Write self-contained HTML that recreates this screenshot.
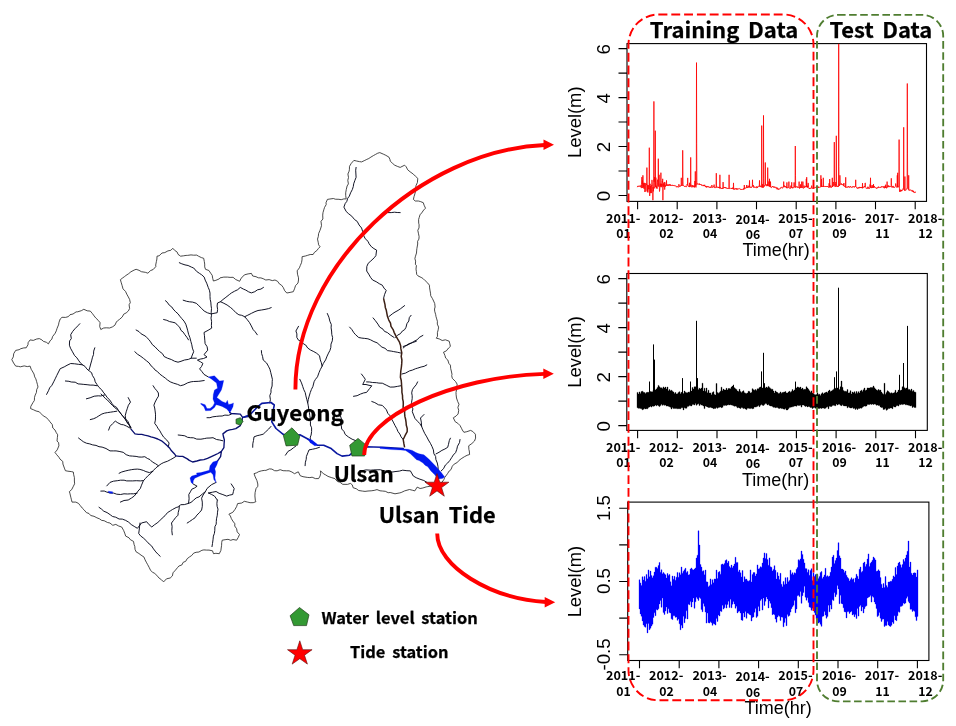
<!DOCTYPE html>
<html lang="en"><head><meta charset="utf-8"><title>Ulsan water level and tide stations: training and test data</title>
<style>
html,body{margin:0;padding:0;background:#fff;}
body{width:956px;height:726px;overflow:hidden;position:relative;}
svg{position:absolute;left:0;top:0;display:block;}
.b{font-family:"Liberation Sans","Noto Sans CJK KR",sans-serif;font-weight:700;fill:#000;}
.k{font-family:"Noto Sans CJK KR","Liberation Sans",sans-serif;font-weight:700;fill:#000;stroke:#000;stroke-width:0.25;}
.x{font-family:"Noto Sans CJK KR","Liberation Sans",sans-serif;font-weight:700;fill:#000;}
.a{font-family:"Liberation Sans",sans-serif;font-weight:400;fill:#000;}
.thin{fill:none;stroke:#1c1c1c;stroke-width:0.8;stroke-linejoin:round;stroke-linecap:round;}
.st{fill:none;stroke:#06081a;stroke-width:0.95;stroke-linejoin:round;stroke-linecap:round;}
.rv{fill:none;stroke:#0a1070;stroke-width:1.35;stroke-linejoin:round;stroke-linecap:round;}
.bl{fill:#0018f0;stroke:#0018f0;stroke-width:0.25;stroke-linejoin:round;}
.ax{fill:none;stroke:#000;stroke-width:1.1;}
.arrow{fill:none;stroke:#ff0000;stroke-width:3.9;}
</style></head><body>
<svg width="956" height="726" viewBox="0 0 956 726">
<rect width="956" height="726" fill="#fff"/>
<g id="map">
<path class="thin" d="M378.1,153.1 L379.8,152.6 L383.7,154.3 L385.8,155.3 L388.9,157.1 L389.9,159.3 L390.3,161.2 L392.6,163.4 L394.7,165.2 L397.7,166.5 L400.2,167.4 L404.6,165.2 L406.2,166.8 L407.7,169.8 L410.1,171.8 L413.3,174.1 L415.3,176.1 L417.8,178.4 L417.4,182.5 L416.0,185.6 L415.6,188.4 L415.6,190.9 L414.9,193.8 L414.0,196.7 L413.4,199.4 L415.2,201.0 L418.4,201.0 L420.3,201.5 L423.3,202.7 L424.1,205.2 L425.5,208.2 L423.7,210.0 L421.7,212.9 L420.0,214.8 L419.2,217.5 L418.6,219.5 L418.7,223.2 L419.1,224.8 L419.0,227.9 L417.8,230.3 L418.4,233.2 L419.1,236.6 L418.9,239.1 L417.6,241.3 L417.7,244.0 L416.9,248.5 L416.7,250.1 L416.5,253.0 L415.3,256.8 L414.9,258.7 L415.6,261.1 L415.4,264.3 L416.4,265.5 L416.0,269.1 L416.4,271.6 L416.7,274.4 L418.0,275.9 L421.9,277.8 L423.3,278.8 L425.2,280.7 L427.8,283.1 L429.4,285.2 L429.6,287.9 L430.1,290.9 L430.6,293.8 L430.7,295.7 L432.4,298.5 L433.6,301.0 L434.7,303.5 L435.1,307.0 L434.5,309.0 L434.7,311.2 L435.7,314.7 L436.0,316.6 L436.7,318.9 L437.4,321.3 L437.3,324.1 L438.6,327.1 L438.2,329.8 L437.4,332.7 L437.5,336.3 L436.3,338.2 L439.2,338.9 L442.2,340.5 L445.4,339.8 L449.2,341.2 L449.8,343.7 L450.4,346.4 L448.6,348.0 L446.3,350.9 L443.5,352.2 L444.9,355.4 L445.7,358.1 L447.8,360.0 L448.9,363.5 L450.4,365.1 L450.7,368.6 L451.3,371.0 L452.0,374.3 L451.7,375.7 L452.3,378.3 L455.6,381.6 L457.1,384.1 L457.0,386.9 L456.7,389.1 L456.0,392.4 L456.1,394.7 L456.5,398.0 L457.7,401.5 L459.0,404.3 L457.9,407.4 L458.7,410.3 L458.1,414.0 L456.0,416.1 L453.3,417.8 L455.2,421.7 L457.8,423.3 L460.0,425.5 L461.5,428.3 L462.3,430.0 L463.9,432.3 L466.8,431.7 L470.6,430.4 L472.8,431.5 L475.4,434.2 L475.6,438.1 L474.5,441.0 L471.9,443.5 L468.7,445.8 L468.9,449.6 L469.3,451.0 L469.6,454.5 L467.1,455.3 L464.6,456.6 L461.9,458.3 L459.1,460.3 L457.4,462.4 L454.2,464.1 L452.3,466.2 L451.0,469.6 L449.2,471.0 L447.5,473.7 L444.6,477.6 L443.9,479.6 L441.7,482.6 L439.6,483.7 L438.0,486.0 L434.8,486.8 L430.7,486.1 L427.8,486.6 L426.2,486.9 L422.8,488.0 L420.1,488.5 L417.2,487.1 L414.8,490.9 L412.7,490.3 L409.5,489.5 L404.6,490.9 L401.2,492.5 L399.8,492.9 L395.0,493.8 L390.2,492.5 L388.2,492.7 L385.3,491.3 L382.3,491.0 L380.0,490.8 L377.0,489.6 L374.2,490.4 L371.2,490.8 L368.0,491.0 L365.0,491.4 L362.6,491.1 L358.7,490.5 L356.4,488.8 L353.1,487.7 L352.3,484.9 L350.4,483.4 L347.5,484.4 L342.7,484.3 L339.9,482.2 L337.4,481.5 L334.9,478.6 L331.8,477.7 L328.0,476.4 L325.3,474.7 L323.6,473.9 L320.5,470.8 L320.7,473.3 L320.1,476.0 L318.6,478.6 L315.4,478.6 L312.1,477.2 L309.9,477.6 L307.3,477.4 L303.0,476.7 L300.2,475.7 L298.3,471.8 L294.5,473.7 L291.9,472.0 L289.1,470.8 L286.7,470.8 L283.1,470.7 L280.2,469.7 L277.1,470.8 L274.6,470.7 L271.9,469.1 L269.4,468.9 L265.9,470.4 L264.3,470.4 L261.7,470.8 L258.8,471.6 L256.6,472.8 L254.0,473.7 L255.2,476.9 L256.9,480.5 L257.8,484.0 L257.8,486.3 L256.0,488.6 L255.1,492.6 L254.9,495.9 L255.3,500.2 L255.9,501.7 L253.2,502.7 L250.1,502.7 L247.7,502.1 L244.3,501.3 L241.8,503.0 L237.6,503.6 L236.6,506.6 L235.0,509.4 L232.8,512.3 L228.9,514.2 L230.4,516.0 L231.4,518.7 L232.8,521.0 L234.9,523.8 L234.7,526.0 L236.6,528.7 L237.2,531.9 L239.5,534.5 L238.2,537.5 L236.6,540.2 L233.0,539.5 L230.8,540.3 L228.0,539.3 L225.1,539.7 L222.2,540.2 L221.7,542.6 L221.6,545.3 L221.2,548.0 L220.9,550.4 L219.3,553.7 L215.9,553.3 L213.5,553.7 L212.5,550.8 L209.0,550.1 L206.7,550.1 L203.9,549.9 L201.9,550.3 L198.9,552.0 L196.1,552.3 L193.7,553.1 L191.7,555.5 L189.4,557.0 L187.2,558.7 L185.7,561.3 L183.2,562.3 L181.8,565.0 L178.9,566.0 L177.7,567.4 L175.4,570.2 L173.0,572.8 L172.4,575.9 L170.2,578.0 L166.5,578.8 L163.6,581.9 L161.5,579.8 L159.1,578.1 L157.4,576.1 L154.6,573.2 L152.6,572.4 L150.5,570.2 L149.1,567.3 L147.7,564.7 L146.3,562.2 L145.1,559.9 L144.0,557.1 L141.0,555.1 L138.9,553.5 L136.1,551.8 L135.0,549.3 L134.8,546.5 L134.1,544.6 L133.5,541.4 L130.4,539.7 L129.0,537.8 L125.7,536.1 L124.7,533.1 L123.6,530.4 L121.7,527.0 L118.7,526.0 L115.8,524.4 L112.8,525.3 L109.9,523.0 L107.5,522.5 L104.1,520.7 L101.7,520.4 L99.6,518.9 L96.9,517.8 L94.0,516.3 L90.7,515.5 L89.0,513.5 L86.4,512.6 L84.0,509.8 L82.2,508.0 L80.2,505.5 L78.5,503.4 L75.8,502.1 L72.0,502.1 L71.3,499.2 L70.8,497.2 L70.0,493.8 L69.4,491.6 L71.7,489.6 L73.1,486.8 L74.6,483.8 L74.4,481.0 L74.4,477.6 L73.7,474.8 L73.3,472.0 L71.3,471.6 L67.9,471.2 L65.4,470.7 L64.4,468.1 L62.9,464.0 L62.8,461.5 L60.0,459.1 L58.9,457.2 L56.7,454.7 L55.0,452.4 L57.2,449.9 L58.9,445.8 L58.6,442.6 L57.0,441.1 L57.4,437.4 L57.7,434.8 L56.3,432.7 L55.0,430.0 L52.8,428.0 L52.3,424.6 L49.8,421.6 L48.4,419.6 L45.9,417.3 L43.3,415.9 L41.0,413.6 L39.3,411.8 L36.1,411.0 L33.3,409.7 L30.6,408.6 L30.8,406.4 L32.9,402.7 L34.4,400.4 L34.5,397.4 L35.2,395.1 L36.4,392.5 L36.7,389.6 L38.0,387.0 L37.4,384.4 L36.6,381.5 L35.8,378.8 L34.7,376.9 L34.0,374.0 L32.2,370.9 L31.2,369.3 L30.1,366.1 L27.3,366.6 L24.2,365.9 L20.4,366.8 L18.5,366.4 L15.7,366.1 L13.6,363.0 L11.8,359.6 L13.3,356.9 L13.7,353.7 L15.7,350.4 L19.1,349.7 L20.8,348.7 L23.8,347.9 L26.2,347.8 L28.0,344.7 L28.1,342.7 L30.1,339.9 L33.3,340.4 L36.7,339.0 L39.3,338.6 L41.9,339.9 L43.3,341.3 L46.4,342.3 L48.4,343.9 L50.1,340.8 L51.9,339.1 L52.5,336.7 L55.2,333.2 L56.3,330.8 L57.0,328.5 L58.5,324.9 L59.0,322.3 L60.2,319.0 L62.0,317.3 L65.6,317.4 L68.4,316.6 L70.0,314.7 L73.0,314.0 L76.1,311.9 L77.7,311.8 L81.3,310.7 L83.8,309.3 L87.2,310.8 L90.3,311.1 L92.5,313.7 L94.1,315.9 L95.7,317.9 L98.2,320.3 L100.1,322.7 L99.7,326.5 L100.8,329.5 L103.7,328.0 L106.3,327.8 L109.6,328.0 L112.6,326.8 L114.9,325.2 L116.4,322.0 L117.5,320.8 L119.5,319.4 L122.3,316.9 L123.7,314.2 L126.2,312.9 L128.4,310.9 L129.6,308.5 L129.1,304.7 L130.3,302.7 L129.6,299.4 L128.3,296.9 L126.8,294.2 L125.5,291.4 L123.0,288.9 L122.1,285.5 L121.1,282.2 L120.4,279.7 L122.3,278.2 L124.5,276.6 L125.9,275.5 L128.6,273.7 L130.9,271.8 L134.1,270.1 L136.1,269.3 L139.0,270.3 L141.4,271.7 L145.3,272.3 L147.9,273.2 L150.5,270.6 L153.2,269.5 L155.8,266.6 L155.7,265.0 L156.4,261.5 L156.9,259.0 L157.0,256.2 L159.1,255.8 L162.0,253.0 L164.8,252.6 L167.9,250.9 L170.8,250.3 L172.8,248.3 L174.6,250.3 L177.2,252.1 L178.0,254.3 L180.6,256.2 L183.6,255.8 L186.1,255.4 L187.4,255.4 L191.0,254.9 L193.7,255.2 L196.7,255.1 L198.5,256.2 L201.4,257.6 L203.7,258.3 L204.3,261.5 L204.7,264.1 L204.7,266.9 L205.5,269.3 L208.9,270.5 L210.7,273.2 L212.2,275.3 L212.7,278.3 L213.4,281.0 L215.9,280.3 L219.2,278.9 L220.0,277.9 L223.8,277.1 L227.5,277.1 L230.1,277.4 L233.1,277.3 L235.7,279.5 L239.6,281.3 L240.8,278.9 L242.6,276.5 L244.9,274.7 L248.1,273.9 L251.4,273.4 L252.7,276.0 L256.0,276.7 L258.3,277.8 L260.9,277.9 L263.2,278.7 L265.8,280.0 L269.1,279.6 L272.3,280.6 L275.0,280.0 L277.6,281.3 L279.4,283.9 L281.5,285.2 L283.2,287.4 L284.7,290.7 L286.8,293.0 L290.1,292.4 L293.3,291.7 L294.5,288.8 L295.5,285.7 L298.0,283.0 L298.5,280.0 L298.5,277.8 L297.5,274.2 L297.2,270.8 L299.4,267.8 L300.3,265.5 L301.5,262.7 L302.0,259.8 L302.1,256.7 L305.4,256.0 L307.7,255.3 L310.2,254.5 L313.1,254.5 L314.4,252.4 L316.8,250.6 L318.4,248.5 L320.1,246.8 L318.6,244.8 L318.3,242.7 L317.5,239.1 L318.3,236.5 L318.6,233.6 L320.0,230.3 L320.8,228.0 L321.5,225.6 L321.0,221.3 L322.9,219.0 L322.7,215.1 L323.0,212.6 L323.8,209.8 L324.5,207.5 L326.2,204.5 L326.0,202.7 L327.4,199.4 L329.9,199.0 L333.4,198.5 L335.3,199.2 L338.9,199.3 L341.2,199.7 L343.9,198.9 L346.2,198.9 L345.7,195.6 L345.7,192.8 L346.3,189.4 L347.1,186.0 L348.4,183.9 L347.8,180.3 L348.5,177.5 L347.9,174.0 L349.1,171.2 L349.4,169.7 L349.5,166.3 L351.3,163.3 L353.9,160.4 L356.5,161.0 L359.4,161.6 L361.6,161.9 L364.8,160.4 L366.8,159.4 L368.8,158.5 L370.9,157.1 L373.4,155.6 L375.2,154.6Z"/>
<path class="st" d="M356.1,167.4 L355.7,170.2 L355.9,174.0 L356.1,177.3 L354.9,180.4 L353.7,183.8 L353.3,186.5 L352.3,189.6 L350.6,192.8 L349.3,196.2 L347.7,198.3 L346.8,201.4 L345.2,203.5 L343.9,207.1 L346.2,211.5 L348.7,213.8 L351.8,216.2 L354.6,219.6 L357.2,221.4 L359.1,225.0 L361.6,228.0 L362.7,231.7 L363.8,235.8 L365.2,238.7 L368.1,241.4 L369.1,243.8 L371.5,246.8 L373.9,248.6 L376.6,250.1 L375.9,255.6 L374.3,257.7 L370.8,261.0 L368.2,263.3 L366.8,266.5 L366.7,271.0 L368.7,274.1 L370.5,277.3 L372.6,280.0 L376.2,281.7 L379.3,283.7 L382.3,285.2 L384.0,288.1 L386.2,290.4 L384.5,294.7 L383.6,298.3 M388.0,212.6 L391.2,212.6 L394.5,212.2 L397.2,212.5 L400.2,212.6 M404.6,305.6 L400.6,308.7 L398.1,310.4 L395.0,312.1 L392.8,313.5 L388.9,316.6 M411.1,315.3 L409.3,317.6 L408.8,321.0 L406.9,323.7 L406.0,327.3 L404.6,329.7 L402.3,331.1 L400.4,333.7 L397.5,335.2 L395.4,337.5 M422.9,335.4 L419.3,337.4 L417.3,339.7 L413.7,341.5 L411.3,343.1 L408.0,344.8 L405.4,346.1 L403.2,348.0 M373.1,317.9 L375.4,320.7 L377.9,324.1 L379.7,327.1 L383.0,329.2 L384.5,331.4 L387.3,332.5 L390.2,334.9 L394.1,337.5 M349.6,327.1 L351.8,329.5 L353.9,332.8 L355.7,334.8 L358.7,337.5 L361.8,338.1 L364.7,338.4 L367.9,338.8 L370.5,339.8 L373.9,341.6 L377.1,342.8 L379.9,345.3 L381.9,347.1 L385.0,348.3 L387.5,350.6 L391.2,351.1 L393.7,351.6 L397.7,352.3 L400.6,353.0 M327.3,313.5 L328.9,317.2 L329.9,321.3 L331.3,324.5 L331.1,327.9 L331.6,331.0 L331.8,334.6 L332.6,337.5 L332.3,340.8 L331.0,344.1 L330.8,347.6 L329.9,350.5 L328.5,353.1 L327.1,356.1 L325.6,359.9 L323.3,363.5 L322.1,366.2 M298.5,326.3 L295.9,331.0 L296.9,333.9 L296.8,337.4 L298.5,340.2 L301.2,341.4 L303.4,343.8 L305.7,345.0 L307.7,348.0 L310.5,350.0 L313.8,351.6 L316.7,353.3 L319.5,355.7 L320.3,359.9 L321.3,362.6 L322.1,366.2 L320.4,369.4 L319.1,372.4 L317.5,376.8 L315.5,379.3 L314.1,381.7 L312.9,386.5 L311.4,389.5 L310.3,392.4 L309.2,396.1 L308.3,399.4 L307.7,402.8 L308.3,405.8 L308.8,409.6 L309.3,412.2 L309.8,415.7 L310.3,418.5 L310.5,421.3 L310.4,425.0 L311.6,427.8 L311.6,431.6 L311.1,435.1 L310.3,437.1 L310.3,440.8 M299.8,379.3 L301.5,382.9 L302.7,386.4 L303.8,389.7 L305.2,392.5 L305.9,395.9 L306.9,399.8 L307.7,402.8 M261.4,350.6 L261.6,353.5 L262.6,356.6 L263.2,360.0 L266.6,363.0 L268.4,366.2 L269.9,369.2 L270.7,372.3 L271.6,376.0 L272.4,379.3 L272.2,381.7 L272.1,386.0 L271.0,389.4 L271.0,392.4 L269.8,395.7 L270.4,399.7 L269.7,402.8 M263.5,287.4 L260.9,289.1 L257.5,289.8 L254.8,291.7 L251.3,292.9 L248.6,291.8 L245.8,290.1 L243.4,289.1 L240.3,287.4 L237.7,289.7 L234.6,291.2 L231.5,292.9 L229.3,294.6 L225.9,297.3 L223.0,299.5 L220.5,301.7 L217.5,303.0 L217.1,306.0 L217.6,309.4 L217.2,312.7 L211.7,313.8 M220.5,301.7 L223.9,303.3 L227.1,305.0 L230.4,307.4 L232.8,309.4 L235.9,312.7 L238.9,314.8 L241.7,315.3 L244.7,316.7 L247.2,319.6 L249.5,322.6 L251.3,325.9 L253.2,329.7 L255.1,331.7 L257.3,334.8 M244.7,316.7 L247.8,315.2 L251.5,313.3 L255.0,311.6 L258.0,310.5 L261.4,310.0 L265.0,309.4 L268.6,308.6 L271.2,307.6 M361.4,374.0 L363.6,376.8 L365.3,379.3 L362.7,384.5 L366.0,384.5 L369.0,385.3 L371.8,385.8 L369.6,388.5 L366.6,392.4 L363.7,392.9 L360.4,394.1 L357.1,395.7 L353.5,396.3 M366.6,381.9 L369.6,382.0 L372.7,382.5 L376.6,382.7 L378.9,383.1 L382.3,383.2 L386.2,385.1 L390.2,387.1 L394.0,387.0 L397.3,386.4 L400.6,385.8 M371.8,401.5 L374.8,402.6 L378.5,404.8 L382.3,405.4 L384.7,407.9 L386.4,409.8 L387.8,413.3 L390.2,415.9 L391.5,418.9 L393.3,422.1 L395.0,425.5 L396.7,428.5 L398.0,431.6 L399.8,434.0 L401.1,436.9 L403.2,439.5 M340.4,415.9 L341.6,419.3 L340.8,421.7 L341.3,425.7 L341.7,429.0 L343.9,431.3 L345.2,434.4 L348.3,436.9 L352.1,439.2 L356.1,440.8 M271.0,426.4 L268.6,429.1 L265.4,432.1 L263.2,434.2 L259.8,435.1 L257.1,435.7 L254.0,436.9 L253.5,440.4 L252.8,443.8 L252.7,447.3 M295.9,446.0 L293.7,447.6 L290.8,449.9 L288.1,451.3 L285.4,455.2 M319.5,447.3 L315.8,448.5 L312.6,449.2 L309.0,449.9 L307.9,452.7 L306.4,456.5 L306.2,459.4 L305.4,462.2 L305.1,465.7 M426.8,364.9 L424.2,366.3 L421.1,367.0 L417.7,368.1 L415.6,368.7 L412.4,370.1 L409.5,370.9 L405.5,373.1 L401.9,374.0 M416.3,341.3 L412.5,342.6 L409.1,343.6 L406.4,345.3 L403.2,346.5 M417.6,381.9 L416.2,384.8 L414.2,387.1 L412.4,389.7 L411.7,392.9 L412.2,395.7 L412.2,398.6 L411.5,402.7 L411.1,405.4 L412.9,408.8 L412.3,411.7 L413.6,415.0 L415.0,418.5 L417.6,421.3 L419.8,423.6 L421.6,426.4 L423.0,429.8 L424.7,433.4 L426.8,436.9 L428.4,440.0 L430.4,443.3 L432.0,446.5 L433.4,449.9 L433.9,453.8 L435.6,456.4 L435.9,459.6 L437.3,463.0 L438.0,466.6 L438.2,470.2 L438.0,474.0 M424.0,414.5 L420.5,418.0 L421.3,422.1 L421.6,426.4 M450.4,438.2 L449.3,440.6 L448.5,444.3 L447.7,447.3 L444.9,449.0 L441.9,450.4 L439.0,452.3 L436.0,453.9 M460.0,439.5 L459.5,442.6 L457.5,446.2 L456.8,449.3 L455.6,452.6 L453.3,455.0 L451.6,457.7 L449.8,460.5 L447.7,463.0 L445.4,465.0 L443.5,468.7 L441.2,470.9 M360.0,470.5 L363.2,470.5 L366.1,469.9 L370.9,470.2 L373.5,469.9 L377.0,469.8 L380.3,469.7 L384.4,471.0 L388.0,471.2 L391.3,472.2 L395.0,471.6 L399.3,471.1 L402.7,470.2 L406.9,470.7 L410.4,470.9 L413.3,476.0 L416.2,477.7 L419.1,478.9 L423.8,480.5 L426.8,482.3 M79.8,323.7 L78.0,325.7 L74.9,328.8 L72.7,331.4 L70.7,334.7 L71.3,338.6 L69.6,340.9 L69.4,345.2 L70.5,348.2 L72.5,351.8 L74.6,355.6 L76.9,357.8 L78.4,360.1 L80.3,362.8 L82.5,364.8 L85.0,366.4 L86.8,368.9 L89.4,371.1 L91.6,372.7 L92.4,375.4 L94.5,378.8 L95.2,381.8 L96.9,384.4 L99.0,387.4 L101.7,389.8 L103.2,392.1 L105.3,394.6 L107.2,397.5 L109.9,400.1 L112.0,403.5 L113.8,405.8 L116.5,407.3 L118.4,410.3 L120.4,413.2 L123.3,416.7 L125.7,420.0 L127.6,423.2 L129.5,425.1 L130.9,427.5 M94.8,347.8 L93.7,351.1 L93.5,354.6 L92.5,357.2 L91.6,360.9 L90.7,364.0 L89.9,367.1 L89.0,370.0 M82.5,364.8 L78.3,364.3 L74.7,363.8 L70.7,363.5 L67.0,365.3 L64.2,366.9 L60.2,368.7 L58.5,372.0 L56.8,375.4 L55.2,378.8 L53.7,381.8 L51.9,385.3 L49.7,387.8 L48.5,390.7 L46.6,394.4 M96.9,385.7 L93.1,385.1 L90.2,385.1 L87.1,384.7 L83.8,384.4 L81.0,384.1 L78.1,383.9 L75.2,382.2 L71.3,382.0 L68.9,381.3 L65.4,381.0 M104.7,394.9 L100.8,396.0 L98.3,395.8 L94.2,396.2 L90.1,397.8 L86.4,398.8 M216.1,482.4 L211.5,484.7 L207.0,488.5 L205.5,491.5 L202.5,493.9 L199.0,496.9 L196.2,497.9 L193.6,500.2 L191.0,502.4 L188.5,503.4 L184.3,504.6 L180.6,504.7 L178.6,506.8 L176.2,507.5 L172.3,509.6 L170.3,510.9 L167.5,512.6 L165.0,515.7 L162.2,518.1 L159.7,520.8 L157.1,523.0 L154.3,524.9 L151.8,527.0 L149.1,524.7 L146.6,521.7 L141.4,523.0 L140.0,525.0 L137.4,528.3 L134.2,526.4 L131.2,524.5 L128.7,522.2 L125.7,520.4 L122.3,519.1 L119.1,519.0 L115.7,517.2 L112.6,516.5 L110.3,514.8 L107.1,512.6 L103.8,511.2 L101.6,509.2 L99.0,507.3 M140.0,523.0 L139.5,526.8 L139.2,530.1 L138.7,533.5 L140.6,535.9 L143.7,538.3 L146.8,541.3 L149.2,544.0 L151.5,545.8 L153.5,548.9 L155.8,551.9 L158.2,554.4 L160.2,556.3 M179.3,506.0 L179.1,509.1 L178.2,512.6 L178.0,515.2 L175.5,517.7 L173.4,520.5 L171.5,523.0 L172.1,526.5 L171.8,530.5 L172.3,534.8 M205.5,491.5 L203.1,495.0 L201.6,498.2 L202.3,502.1 L202.3,506.3 L201.6,510.0 L199.4,512.7 L196.9,515.1 L195.0,517.8 L192.6,519.4 L189.6,521.5 L187.2,523.0 M217.3,500.0 L216.9,503.5 L217.1,506.3 L218.0,509.2 L217.5,512.2 L217.3,515.2 L216.5,518.8 L216.3,521.4 L216.2,524.2 L214.9,526.7 L214.8,530.4 L214.4,533.4 L213.4,536.1 L213.0,539.8 L212.5,543.5 L212.0,546.6 M101.0,394.0 L103.0,395.9 L105.4,398.5 L107.4,400.0 L110.0,402.9 L112.3,405.3 L114.5,407.5 L117.6,409.7 L120.2,412.7 L122.2,415.4 L125.2,418.8 L126.7,421.6 L128.5,424.2 L130.5,427.1 M90.3,419.6 L93.7,418.7 L96.5,417.4 L98.8,415.9 L101.9,414.0 L104.7,413.1 L107.5,412.6 L110.3,412.2 L113.6,411.7 L116.8,411.2 M108.6,430.1 L110.0,426.4 L112.6,423.7 L115.3,421.1 L117.8,422.8 L121.2,424.5 L123.6,424.8 L126.5,426.1 L129.7,427.9 M175.9,456.4 L173.0,458.3 L170.4,459.7 L167.6,461.2 L163.8,462.5 L161.2,463.8 L158.5,465.8 L155.7,463.8 L152.4,462.0 L150.0,459.6 L147.3,458.4 L144.8,456.7 L141.8,457.1 L138.9,457.0 L136.1,456.4 L132.6,456.1 L129.7,455.9 L126.2,454.7 L123.2,452.3 L119.1,451.4 L116.1,450.9 L113.3,450.9 L110.0,450.9 L106.0,448.5 L102.1,447.1 L99.0,446.7 L96.0,445.4 L92.7,444.9 L89.8,443.9 L86.4,443.2 L83.3,441.7 L81.2,440.1 L78.5,438.0 M158.5,465.8 L155.9,467.9 L153.3,470.5 L150.9,473.3 L148.1,475.6 L145.4,478.5 L143.3,480.9 L141.5,485.2 L140.3,488.5 L138.0,491.1 L136.3,493.5 L134.2,496.1 L131.5,498.0 L128.2,500.0 L124.0,500.5 L120.4,502.1 M153.0,471.2 L149.4,472.6 L145.9,471.6 L143.3,470.4 L139.9,469.4 L137.3,469.1 L134.1,469.3 L131.3,469.7 L128.2,470.3 L125.2,471.0 L121.7,472.0 L119.1,473.3 M143.3,480.6 L140.3,480.9 L136.3,480.7 L132.7,480.9 L130.1,480.9 L126.7,480.9 L124.1,480.2 L120.6,480.2 L117.3,480.7 L113.4,481.2 L110.0,482.4 L106.8,485.9 M137.0,493.2 L133.6,493.8 L130.4,493.8 L127.7,494.0 L124.0,493.8 L120.6,494.5 L116.7,494.2 L113.7,493.1 L110.0,493.0 L106.8,492.1 L104.2,491.0 L100.8,491.1 M153.1,385.7 L154.8,388.4 L156.9,390.8 L158.4,393.0 L158.5,396.1 L156.8,398.8 L155.1,402.1 L153.9,405.2 L154.7,408.0 L155.1,410.9 L155.5,414.2 L155.5,416.9 L155.4,420.1 L154.7,423.3 L156.9,426.3 L157.8,428.1 L159.9,430.9 L161.5,433.9 L163.7,437.2 L166.8,440.1 L169.1,443.0 L168.3,446.8 M178.2,435.0 L181.1,435.3 L184.8,435.8 L187.5,437.3 L190.3,437.7 L193.5,437.8 L196.7,439.1 L200.9,439.2 L204.3,438.6 L206.8,438.1 L210.0,438.0 L213.0,437.7 L216.5,439.5 L219.7,440.0 L222.9,440.8 M207.0,417.7 L209.9,417.7 L212.8,416.8 L216.3,416.4 L219.1,416.1 L222.2,416.0 L224.9,415.1 L228.5,415.3 L231.2,414.2 M193.0,483.9 L197.1,486.2 L194.5,488.0 L191.8,489.2 L190.4,491.8 L188.8,494.5 L189.1,498.8 L188.5,503.4 M208.5,493.0 L212.5,492.2 L216.1,491.5 L219.1,493.3 L222.9,494.6 L226.7,496.1 L229.6,495.1 L232.7,494.5 L233.4,491.6 L234.2,488.5 L231.2,483.9 M208.5,493.0 L211.7,494.5 L214.5,496.1 L217.3,500.0 M128.2,397.6 L130.5,402.1 L128.4,405.2 L127.4,408.2 L126.2,411.8 L125.2,415.8 L125.7,418.9 L128.2,421.8 L129.4,425.2 L131.2,429.4 M179.3,262.7 L181.8,263.8 L185.0,264.9 L188.1,265.5 L191.4,267.1 L193.7,268.0 L196.5,271.3 L199.5,273.4 L201.7,274.8 L204.2,277.1 L205.2,280.1 L206.7,283.2 L208.3,287.6 L209.4,290.2 L210.0,293.1 L210.0,296.5 L210.2,299.4 L210.8,302.1 L211.1,305.9 L211.5,308.5 L211.2,312.3 L211.5,315.2 L211.0,318.1 L211.6,321.6 L211.4,325.3 L211.7,328.1 L208.1,330.3 L204.0,332.5 L204.4,335.3 L204.8,340.2 L205.1,343.6 L207.1,346.7 L207.7,350.2 L204.0,354.6 L207.0,357.0 L203.5,358.5 L200.2,359.1 L197.4,360.1 L200.5,361.8 L202.9,363.4 L201.6,366.4 L199.6,368.9 L202.0,371.7 L204.0,374.4 L208.2,376.9 M183.2,300.2 L186.6,301.3 L189.4,301.8 L192.6,302.1 L196.3,303.3 L198.8,305.7 L201.6,308.4 L204.2,311.1 L207.5,312.8 L210.7,313.8 M165.4,300.7 L167.1,302.1 L169.3,305.2 L171.8,307.0 L173.1,309.0 L175.7,311.8 L178.0,313.8 L179.8,316.2 L181.8,318.6 L184.0,321.1 L185.8,324.2 L187.0,328.0 L187.6,330.2 L188.6,334.3 L189.8,337.3 L190.9,341.6 L191.8,344.8 L192.4,348.1 L193.7,351.7 L192.3,355.0 L191.1,358.2 M163.6,319.5 L166.8,320.3 L169.6,321.6 L172.1,322.1 L175.4,322.9 L177.4,325.2 L179.6,327.1 L181.0,330.4 L183.2,332.1 L184.6,334.3 L186.9,337.3 L188.5,339.9 M136.1,330.0 L139.0,331.6 L141.1,333.8 L145.0,335.9 L146.6,337.3 L149.0,339.7 L150.5,341.8 L152.5,344.8 L155.0,346.8 L157.1,349.1 L159.6,351.5 L162.5,353.7 L164.1,356.5 L167.5,358.2 L171.3,359.5 L174.5,361.2 L178.0,362.2 L181.0,361.3 L184.5,360.0 L188.4,359.4 L191.1,358.2 L196.3,358.2 M134.8,351.7 L137.5,354.2 L140.9,356.4 L143.5,358.4 L146.6,360.9 L149.2,363.0 L151.1,365.9 L153.5,367.9 L154.9,369.9 L157.6,371.7 L159.7,374.0 L162.4,376.0 L165.3,378.1 L167.4,379.9 L170.2,381.8 L173.4,383.1 L177.4,384.3 L180.6,385.7 L183.9,384.8 L187.7,382.8 L191.1,381.8 L193.5,381.5 L198.8,381.3 L201.0,381.0 L204.2,380.5"/>
<path d="M383.6,298.3 L384.2,301.3 L385.0,304.6 L385.3,307.4 L386.3,310.3 L386.9,313.6 L387.5,316.6 L388.8,320.1 L390.5,323.2 L391.0,326.4 L393.3,329.9 L394.1,332.3 L395.6,335.4 L397.4,338.7 L399.5,342.2 L400.6,345.4 L400.9,348.9 L401.8,352.9 L401.2,356.3 L401.9,360.0 L401.7,363.9 L401.4,367.0 L400.8,371.0 L400.6,374.0 L400.4,377.2 L401.2,380.3 L401.5,383.4 L401.6,385.7 L401.9,389.1 L401.9,392.4 L402.5,395.3 L402.6,398.9 L403.2,401.4 L403.3,404.1 L403.1,407.4 L404.7,410.3 L404.6,413.3 L404.9,416.4 L405.6,419.2 L406.1,422.7 L406.3,425.3 L407.2,428.4 L407.2,431.6 L405.0,435.7 L403.2,439.5 L403.9,443.7 L404.6,447.3" fill="none" stroke="#3b1f14" stroke-width="1.5" stroke-linejoin="round"/>
<path class="rv" d="M131.2,429.4 L135.0,433.9 L138.3,434.4 L141.8,434.4 L144.6,435.2 L148.0,435.8 L151.0,436.9 L153.9,437.7 L157.7,439.0 L161.5,440.8 L164.5,443.2 L167.3,445.7 L169.8,448.3 L171.5,450.8 L174.3,453.7 L175.9,455.9 L179.4,456.3 L182.7,456.4 L187.3,458.9 L189.3,460.4 L192.6,462.0 L196.9,461.0 L200.2,460.0 L203.9,459.7 L207.5,458.4 L210.8,456.8 L214.5,455.2 L218.0,453.5 L221.4,451.4 L223.9,447.6 L224.1,443.8 L224.4,440.0 L223.5,436.8 L222.9,433.9 L226.7,430.9 L229.7,429.8 L232.6,429.4 L235.8,428.6 L240.3,425.6 L241.8,421.5 L242.6,417.3 M229.7,412.4 L231.2,413.5 L240.3,414.2 L242.6,417.3 L250.0,416.3 M221.4,451.4 L220.6,456.7 L217.6,460.8"/>
<path class="rv" style="stroke:#0a18a0;stroke-width:1.6" d="M243.6,417.2 L250.0,414.7 L256.7,407.6 L261.8,403.4 L271.0,402.5 L274.3,405.0 L272.6,413.4 L271.8,421.8 L276.0,428.5 L283.2,434.3 L292.0,437.0 L299.9,434.8 L306.9,438.5 L317.0,445.2 L323.7,445.2 L331.2,448.6 L337.1,453.6 L342.1,456.1 L349.6,455.2 L358.0,448.0 L365.3,446.8 L382.3,447.3 L403.2,448.6"/>
<path class="bl" d="M208.2,376.9 L214.4,375.8 L219.6,381.0 L223.7,380.5 L222.5,386.0 L221.4,390.0 L219.1,393.8 L216.8,397.5 L222.1,401.4 L225.9,402.9 L227.4,400.3 L228.5,404.4 L231.2,403.9 L233.5,402.9 L233.0,406.7 L230.9,410.9 L229.7,412.4 L226.7,408.9 L222.1,406.4 L218.3,405.2 L216.1,404.8 L214.5,407.4 L210.8,410.5 L205.5,410.8 L203.9,406.7 L200.6,404.1 L200.9,403.3 L205.2,404.7 L207.0,408.5 L210.0,408.5 L213.0,405.9 L214.5,402.9 L213.0,399.1 L213.3,394.5 L214.5,390.0 L217.5,388.2 L216.5,383.1 L211.3,378.9Z"/>
<path class="bl" d="M217.6,460.5 L213.0,462.0 L210.0,465.8 L209.2,470.3 L200.9,472.6 L196.4,473.0 L197.1,474.5 L191.8,476.1 L190.0,477.9 L191.1,482.4 L193.0,483.9 L193.3,480.7 L194.8,478.2 L200.9,475.6 L207.0,473.4 L210.8,472.2 L213.0,474.8 L213.8,479.4 L216.1,482.8 L215.0,477.9 L215.6,471.8 L214.8,468.8 L216.8,465.0 L218.0,461.5Z"/>
<path class="bl" d="M380.0,447.0 L391.6,448.0 L404.6,448.9 L408.0,449.3 L412.4,450.4 L416.0,452.6 L419.1,453.8 L423.9,454.8 L428.8,459.1 L435.5,465.9 L441.3,472.6 L444.7,476.9 L442.3,478.6 L438.0,479.0 L434.5,474.5 L430.7,470.7 L427.8,466.8 L425.0,465.2 L423.0,463.0 L419.1,460.6 L416.5,459.8 L414.8,458.1 L410.4,453.8 L405.6,450.6 L400.8,450.0 L391.6,449.6 L380.0,448.6Z"/>
<path class="bl" d="M308.0,438.6 L312.0,440.0 L317.5,444.6 L315.0,446.0 L310.0,442.5Z"/>
<path class="bl" d="M108.0,491.2 L112.6,491.8 L112.6,493.6 L109.0,493.0Z"/>
</g>
<g id="markers" stroke="#1f3d1a" stroke-width="0.7" stroke-linejoin="round">
<path d="M240.4,417.7 L243.1,421.3 L240.5,425.1 L236.1,423.7 L236.0,419.2Z" fill="#339933"/>
<path d="M291.9,427.8 L299.8,436.0 L297.6,445.2 L286.1,445.9 L283.3,435.3Z" fill="#339933"/>
<path d="M358.0,438.4 L366.3,445.2 L364.6,456.0 L351.9,456.0 L349.7,445.3Z" fill="#339933"/>
<path d="M299.5,607.5 L309.0,614.8 L306.5,625.6 L293.7,625.6 L290.1,615.7Z" fill="#339933"/>
</g>
<g id="stars" stroke="#5a0c0c" stroke-width="0.6" stroke-linejoin="round">
<path d="M437.0,473.6 L439.8,482.2 L448.9,482.2 L441.6,487.6 L444.3,496.2 L437.0,490.9 L429.7,496.2 L432.4,487.6 L425.1,482.2 L434.2,482.2Z" fill="#ff0000"/>
<path d="M299.8,640.8 L302.7,649.7 L312.1,649.7 L304.5,655.2 L307.4,664.1 L299.8,658.7 L292.2,664.1 L295.1,655.2 L287.5,649.7 L296.9,649.7Z" fill="#ff0000"/>
</g>
<g id="arrows">
<path class="arrow" d="M295.4,389.4 C295.4,265.6 421.4,150.6 544.7,145.0"/>
<path d="M554.0,144.8 L543.5,139.5 L543.5,150.1Z" fill="#ff0000"/>
<path class="arrow" d="M364.2,455.0 C364.2,418.1 451.1,376.6 544.5,373.9"/>
<path d="M553.8,373.8 L543.3,368.5 L543.3,379.1Z" fill="#ff0000"/>
<path class="arrow" d="M437.2,533.5 C437.2,566.1 490.2,598.7 545.9,602.0"/>
<path d="M555.2,602.3 L544.7,597.0 L544.7,607.6Z" fill="#ff0000"/>
</g>
<g id="labels">
<text class="k" x="246.4" y="420.6" font-size="21.3" textLength="97.4" lengthAdjust="spacingAndGlyphs">Guyeong</text>
<text class="k" x="333.7" y="482.0" font-size="21.3" textLength="60.1" lengthAdjust="spacingAndGlyphs">Ulsan</text>
<text class="k" x="378.7" y="522.8" font-size="21.3" textLength="117" lengthAdjust="spacingAndGlyphs" word-spacing="4">Ulsan Tide</text>
<text class="k" x="321.4" y="623.6" font-size="16.2" textLength="156.5" lengthAdjust="spacingAndGlyphs" word-spacing="3">Water level station</text>
<text class="k" x="350.0" y="658.4" font-size="16.2" textLength="98.6" lengthAdjust="spacingAndGlyphs" word-spacing="3">Tide station</text>
</g>
<g id="chart1">
<rect class="ax" x="627.0" y="43.6" width="299.5" height="157.8"/>
<path class="ax" d="M637.6,201.4v7.8M677.2,201.4v7.8M716.9,201.4v7.8M756.5,201.4v7.8M796.2,201.4v7.8M835.9,201.4v7.8M875.5,201.4v7.8M915.2,201.4v7.8M627.0,48.6h-8.5M627.0,73.1h-8.5M627.0,97.6h-8.5M627.0,122.0h-8.5M627.0,146.5h-8.5M627.0,171.0h-8.5M627.0,195.5h-8.5"/>
<text class="a" font-size="18.7" text-anchor="middle" transform="translate(609.9,49.2) rotate(-90)">6</text>
<text class="a" font-size="18.7" text-anchor="middle" transform="translate(609.9,98.2) rotate(-90)">4</text>
<text class="a" font-size="18.7" text-anchor="middle" transform="translate(609.9,147.1) rotate(-90)">2</text>
<text class="a" font-size="18.7" text-anchor="middle" transform="translate(609.9,196.1) rotate(-90)">0</text>
<text class="a" font-size="18.4" text-anchor="middle" transform="translate(581.4,122.2) rotate(-90)">Level(m)</text>
<text class="a" font-size="18" x="742.4" y="255.8">Time(hr)</text>
<text class="x" font-size="12.3" textLength="34.4" lengthAdjust="spacingAndGlyphs" text-anchor="middle" x="623.2" y="223.2">2011-</text>
<text class="x" font-size="12.3" text-anchor="middle" x="623.6" y="238.3">01</text>
<text class="x" font-size="12.3" textLength="34.4" lengthAdjust="spacingAndGlyphs" text-anchor="middle" x="666.2" y="223.2">2012-</text>
<text class="x" font-size="12.3" text-anchor="middle" x="666.6" y="238.3">02</text>
<text class="x" font-size="12.3" textLength="34.4" lengthAdjust="spacingAndGlyphs" text-anchor="middle" x="709.6" y="223.2">2013-</text>
<text class="x" font-size="12.3" text-anchor="middle" x="710.0" y="238.3">04</text>
<text class="x" font-size="12.3" textLength="34.4" lengthAdjust="spacingAndGlyphs" text-anchor="middle" x="752.6" y="224.4">2014-</text>
<text class="x" font-size="12.3" text-anchor="middle" x="753.0" y="239.0">06</text>
<text class="x" font-size="12.3" textLength="34.4" lengthAdjust="spacingAndGlyphs" text-anchor="middle" x="795.5" y="223.2">2015-</text>
<text class="x" font-size="12.3" text-anchor="middle" x="795.9" y="238.3">07</text>
<text class="x" font-size="12.3" textLength="34.4" lengthAdjust="spacingAndGlyphs" text-anchor="middle" x="839.1" y="223.2">2016-</text>
<text class="x" font-size="12.3" text-anchor="middle" x="839.5" y="238.3">09</text>
<text class="x" font-size="12.3" textLength="34.4" lengthAdjust="spacingAndGlyphs" text-anchor="middle" x="882" y="223.2">2017-</text>
<text class="x" font-size="12.3" text-anchor="middle" x="882.4" y="238.3">11</text>
<text class="x" font-size="12.3" textLength="34.4" lengthAdjust="spacingAndGlyphs" text-anchor="middle" x="925.2" y="223.2">2018-</text>
<text class="x" font-size="12.3" text-anchor="middle" x="925.6" y="238.3">12</text>
<path d="M637.3,187.2 L637.5,186.6 L637.7,186.9 L637.9,185.9 L638.1,186.6 L638.3,186.4 L638.5,186.5 L638.7,186.4 L638.9,185.9 L639.1,186.1 L639.3,185.7 L639.5,185.9 L639.7,186.5 L639.9,186.0 L640.1,186.3 L640.3,186.5 L640.5,186.9 L640.7,186.6 L640.9,185.8 L641.1,184.8 L641.3,188.1 L641.5,184.7 L641.7,183.0 L641.9,177.1 L642.1,184.2 L642.3,180.3 L642.5,180.7 L642.7,188.0 L642.9,175.3 L643.1,180.8 L643.3,187.5 L643.5,186.4 L643.7,183.1 L643.9,187.8 L644.1,188.9 L644.3,182.8 L644.5,183.2 L644.7,183.6 L644.9,192.0 L645.1,183.0 L645.3,183.5 L645.5,184.3 L645.7,186.9 L645.9,191.5 L646.1,190.4 L646.3,184.0 L646.5,183.7 L646.7,184.9 L646.9,167.6 L647.1,184.0 L647.3,187.9 L647.5,191.7 L647.7,184.9 L647.9,192.5 L648.1,190.1 L648.3,186.8 L648.5,185.3 L648.7,189.2 L648.9,188.3 L649.1,189.0 L649.3,147.7 L649.5,179.1 L649.7,195.9 L649.9,188.2 L650.1,183.8 L650.3,187.0 L650.5,186.7 L650.7,193.1 L650.9,186.1 L651.1,188.5 L651.3,193.1 L651.5,185.4 L651.7,186.2 L651.9,179.9 L652.1,180.6 L652.3,184.0 L652.5,186.2 L652.7,189.3 L652.9,200.2 L653.1,186.9 L653.3,191.4 L653.5,187.9 L653.7,178.7 L653.9,101.4 L654.1,181.7 L654.3,178.9 L654.5,177.2 L654.7,188.4 L654.9,186.9 L655.1,186.5 L655.3,130.7 L655.5,178.3 L655.7,187.0 L655.9,177.6 L656.1,186.6 L656.3,186.5 L656.5,188.2 L656.7,185.8 L656.9,186.4 L657.1,188.7 L657.3,182.4 L657.5,179.7 L657.7,180.2 L657.9,186.1 L658.1,185.7 L658.3,158.7 L658.5,175.7 L658.7,185.7 L658.9,186.8 L659.1,174.8 L659.3,186.1 L659.5,191.5 L659.7,190.3 L659.9,188.3 L660.1,186.9 L660.3,183.7 L660.5,186.7 L660.7,184.9 L660.9,172.7 L661.1,185.3 L661.3,183.8 L661.5,185.8 L661.7,187.2 L661.9,183.9 L662.1,186.4 L662.3,181.0 L662.5,182.4 L662.7,178.8 L662.9,200.2 L663.1,186.8 L663.3,186.4 L663.5,183.4 L663.7,186.8 L663.9,183.6 L664.1,182.1 L664.3,182.1 L664.5,183.6 L664.7,189.6 L664.9,182.4 L665.1,185.1 L665.3,186.2 L665.5,186.7 L665.7,185.2 L665.9,185.9 L666.1,185.6 L666.3,185.2 L666.5,180.4 L666.7,185.2 L666.9,185.8 L667.1,184.2 L667.3,185.6 L667.5,185.4 L667.7,185.5 L667.9,185.3 L668.1,185.9 L668.3,185.1 L668.5,185.3 L668.7,184.5 L668.9,185.6 L669.1,185.2 L669.3,184.2 L669.5,185.1 L669.7,185.2 L669.9,185.0 L670.1,185.6 L670.3,184.7 L670.5,184.4 L670.7,185.5 L670.9,185.1 L671.1,185.7 L671.3,185.2 L671.5,185.0 L671.7,185.2 L671.9,185.6 L672.1,185.3 L672.3,184.9 L672.5,185.3 L672.7,185.2 L672.9,185.2 L673.1,186.0 L673.3,185.4 L673.5,185.0 L673.7,185.4 L673.9,185.7 L674.1,185.7 L674.3,185.5 L674.5,185.7 L674.7,186.1 L674.9,185.6 L675.1,185.6 L675.3,186.0 L675.5,185.8 L675.7,186.3 L675.9,186.5 L676.1,186.5 L676.3,186.4 L676.5,187.2 L676.7,187.0 L676.9,186.5 L677.1,187.1 L677.3,186.7 L677.5,186.4 L677.7,186.8 L677.9,186.9 L678.1,186.7 L678.3,187.4 L678.5,187.0 L678.7,186.5 L678.9,184.2 L679.1,186.4 L679.3,186.5 L679.5,186.7 L679.7,186.0 L679.9,186.1 L680.1,185.6 L680.3,186.0 L680.5,186.4 L680.7,185.9 L680.9,185.8 L681.1,186.0 L681.3,177.8 L681.5,185.5 L681.7,185.4 L681.9,185.9 L682.1,185.0 L682.3,185.6 L682.5,185.4 L682.7,150.3 L682.9,176.2 L683.1,185.2 L683.3,185.7 L683.5,185.3 L683.7,185.8 L683.9,186.1 L684.1,186.2 L684.3,186.2 L684.5,186.9 L684.7,186.6 L684.9,186.3 L685.1,186.2 L685.3,185.9 L685.5,186.5 L685.7,186.7 L685.9,186.3 L686.1,186.4 L686.3,187.1 L686.5,186.6 L686.7,186.4 L686.9,185.9 L687.1,184.2 L687.3,185.1 L687.5,184.7 L687.7,177.9 L687.9,185.8 L688.1,185.6 L688.3,185.7 L688.5,186.3 L688.7,186.3 L688.9,187.0 L689.1,186.5 L689.3,186.9 L689.5,182.8 L689.7,187.1 L689.9,186.6 L690.1,186.7 L690.3,186.9 L690.5,186.7 L690.7,157.4 L690.9,186.1 L691.1,184.8 L691.3,186.6 L691.5,186.4 L691.7,186.8 L691.9,187.4 L692.1,186.7 L692.3,187.0 L692.5,185.2 L692.7,186.7 L692.9,186.6 L693.1,186.6 L693.3,186.5 L693.5,186.5 L693.7,186.9 L693.9,185.3 L694.1,187.3 L694.3,186.2 L694.5,186.7 L694.7,187.4 L694.9,181.0 L695.1,186.4 L695.3,171.4 L695.5,186.8 L695.7,187.0 L695.9,187.1 L696.1,187.4 L696.3,186.7 L696.5,62.6 L696.7,143.4 L696.9,184.7 L697.1,183.8 L697.3,183.5 L697.5,183.6 L697.7,183.7 L697.9,183.9 L698.1,183.9 L698.3,184.4 L698.5,184.0 L698.7,184.1 L698.9,184.0 L699.1,184.2 L699.3,183.5 L699.5,184.8 L699.7,184.2 L699.9,184.1 L700.1,184.5 L700.3,184.8 L700.5,184.3 L700.7,184.6 L700.9,184.2 L701.1,184.9 L701.3,184.8 L701.5,184.7 L701.7,185.6 L701.9,185.2 L702.1,185.1 L702.3,184.9 L702.5,185.2 L702.7,185.4 L702.9,185.0 L703.1,186.1 L703.3,185.9 L703.5,185.9 L703.7,184.9 L703.9,185.7 L704.1,185.7 L704.3,185.1 L704.5,185.7 L704.7,184.8 L704.9,186.1 L705.1,186.1 L705.3,186.6 L705.5,185.9 L705.7,187.1 L705.9,186.8 L706.1,186.9 L706.3,186.1 L706.5,186.2 L706.7,187.5 L706.9,186.7 L707.1,186.6 L707.3,186.5 L707.5,186.2 L707.7,187.0 L707.9,187.1 L708.1,186.5 L708.3,186.3 L708.5,187.1 L708.7,187.2 L708.9,187.2 L709.1,187.3 L709.3,186.8 L709.5,187.5 L709.7,187.2 L709.9,187.2 L710.1,187.5 L710.3,187.1 L710.5,187.6 L710.7,186.7 L710.9,186.7 L711.1,187.3 L711.3,187.6 L711.5,186.9 L711.7,186.4 L711.9,185.0 L712.1,187.3 L712.3,187.3 L712.5,187.2 L712.7,187.6 L712.9,187.1 L713.1,186.8 L713.3,187.0 L713.5,186.6 L713.7,187.1 L713.9,186.8 L714.1,184.6 L714.3,187.6 L714.5,187.2 L714.7,187.7 L714.9,187.9 L715.1,187.8 L715.3,187.9 L715.5,187.3 L715.7,186.9 L715.9,187.2 L716.1,186.9 L716.3,173.2 L716.5,187.6 L716.7,187.4 L716.9,187.1 L717.1,186.7 L717.3,186.8 L717.5,187.0 L717.7,187.2 L717.9,187.7 L718.1,187.0 L718.3,187.7 L718.5,186.9 L718.7,187.2 L718.9,187.9 L719.1,187.3 L719.3,187.2 L719.5,188.4 L719.7,187.9 L719.9,174.8 L720.1,188.0 L720.3,187.3 L720.5,188.2 L720.7,188.6 L720.9,188.4 L721.1,188.8 L721.3,188.2 L721.5,188.0 L721.7,188.6 L721.9,188.4 L722.1,188.0 L722.3,188.9 L722.5,188.5 L722.7,187.9 L722.9,188.3 L723.1,182.1 L723.3,188.4 L723.5,188.3 L723.7,187.6 L723.9,187.6 L724.1,187.7 L724.3,187.5 L724.5,187.3 L724.7,188.0 L724.9,187.0 L725.1,187.6 L725.3,187.6 L725.5,187.5 L725.7,188.0 L725.9,187.5 L726.1,188.4 L726.3,188.1 L726.5,188.1 L726.7,187.9 L726.9,187.8 L727.1,188.5 L727.3,188.1 L727.5,188.6 L727.7,188.9 L727.9,188.7 L728.1,188.9 L728.3,188.4 L728.5,188.5 L728.7,188.9 L728.9,188.7 L729.1,174.8 L729.3,188.5 L729.5,188.7 L729.7,188.3 L729.9,188.4 L730.1,188.6 L730.3,188.4 L730.5,188.2 L730.7,188.1 L730.9,188.2 L731.1,188.0 L731.3,188.6 L731.5,188.0 L731.7,188.6 L731.9,188.2 L732.1,188.4 L732.3,189.0 L732.5,188.1 L732.7,187.6 L732.9,188.3 L733.1,188.4 L733.3,189.3 L733.5,182.9 L733.7,189.2 L733.9,188.7 L734.1,189.6 L734.3,189.5 L734.5,189.5 L734.7,188.6 L734.9,188.8 L735.1,189.0 L735.3,188.9 L735.5,189.0 L735.7,188.7 L735.9,188.1 L736.1,189.4 L736.3,188.9 L736.5,188.8 L736.7,188.4 L736.9,189.6 L737.1,189.1 L737.3,189.3 L737.5,189.2 L737.7,188.5 L737.9,189.3 L738.1,189.2 L738.3,189.2 L738.5,189.0 L738.7,188.7 L738.9,189.0 L739.1,188.8 L739.3,188.8 L739.5,188.8 L739.7,188.8 L739.9,188.5 L740.1,188.7 L740.3,189.2 L740.5,189.5 L740.7,189.6 L740.9,189.3 L741.1,190.0 L741.3,189.7 L741.5,189.3 L741.7,189.2 L741.9,189.6 L742.1,189.3 L742.3,189.1 L742.5,189.3 L742.7,189.3 L742.9,189.5 L743.1,188.9 L743.3,189.5 L743.5,188.6 L743.7,189.1 L743.9,188.7 L744.1,189.3 L744.3,185.0 L744.5,188.5 L744.7,188.8 L744.9,188.9 L745.1,187.8 L745.3,188.1 L745.5,187.8 L745.7,188.2 L745.9,188.1 L746.1,187.9 L746.3,187.6 L746.5,187.7 L746.7,185.0 L746.9,187.9 L747.1,187.9 L747.3,187.0 L747.5,187.5 L747.7,187.4 L747.9,187.6 L748.1,185.7 L748.3,187.1 L748.5,186.9 L748.7,187.5 L748.9,187.3 L749.1,185.9 L749.3,187.3 L749.5,180.4 L749.7,186.7 L749.9,187.4 L750.1,187.3 L750.3,186.8 L750.5,187.3 L750.7,187.7 L750.9,187.2 L751.1,187.3 L751.3,187.6 L751.5,187.8 L751.7,187.1 L751.9,186.4 L752.1,186.7 L752.3,186.5 L752.5,179.8 L752.7,186.3 L752.9,186.3 L753.1,186.3 L753.3,185.1 L753.5,187.0 L753.7,187.5 L753.9,187.7 L754.1,186.7 L754.3,187.0 L754.5,187.0 L754.7,186.8 L754.9,187.7 L755.1,187.4 L755.3,187.1 L755.5,187.2 L755.7,187.4 L755.9,187.5 L756.1,188.0 L756.3,188.1 L756.5,187.5 L756.7,186.4 L756.9,187.2 L757.1,187.4 L757.3,187.0 L757.5,187.9 L757.7,187.1 L757.9,186.5 L758.1,186.6 L758.3,186.8 L758.5,186.3 L758.7,186.2 L758.9,185.9 L759.1,186.2 L759.3,186.3 L759.5,180.4 L759.7,186.7 L759.9,186.4 L760.1,186.6 L760.3,185.7 L760.5,186.0 L760.7,186.6 L760.9,186.1 L761.1,187.0 L761.3,187.4 L761.5,187.1 L761.7,125.6 L761.9,181.9 L762.1,185.8 L762.3,187.5 L762.5,187.4 L762.7,184.2 L762.9,187.2 L763.1,187.7 L763.3,187.9 L763.5,115.4 L763.7,178.4 L763.9,187.0 L764.1,186.5 L764.3,186.2 L764.5,186.0 L764.7,185.2 L764.9,185.9 L765.1,185.5 L765.3,162.5 L765.5,184.2 L765.7,185.0 L765.9,184.5 L766.1,184.3 L766.3,185.4 L766.5,185.4 L766.7,185.1 L766.9,186.2 L767.1,185.6 L767.3,184.0 L767.5,185.7 L767.7,167.6 L767.9,179.8 L768.1,185.7 L768.3,185.6 L768.5,185.8 L768.7,186.2 L768.9,181.5 L769.1,186.1 L769.3,186.3 L769.5,178.8 L769.7,186.5 L769.9,186.4 L770.1,186.0 L770.3,187.0 L770.5,181.6 L770.7,186.9 L770.9,187.5 L771.1,187.7 L771.3,187.7 L771.5,187.1 L771.7,187.4 L771.9,187.0 L772.1,186.6 L772.3,186.2 L772.5,186.8 L772.7,186.1 L772.9,186.7 L773.1,186.8 L773.3,186.8 L773.5,186.7 L773.7,186.8 L773.9,187.6 L774.1,186.6 L774.3,187.3 L774.5,187.4 L774.7,187.2 L774.9,186.8 L775.1,187.5 L775.3,187.7 L775.5,187.2 L775.7,187.1 L775.9,187.3 L776.1,187.2 L776.3,188.3 L776.5,187.8 L776.7,188.2 L776.9,187.8 L777.1,189.3 L777.3,188.4 L777.5,187.8 L777.7,188.7 L777.9,188.8 L778.1,189.5 L778.3,188.6 L778.5,189.1 L778.7,189.5 L778.9,189.8 L779.1,189.3 L779.3,189.0 L779.5,188.9 L779.7,188.5 L779.9,188.6 L780.1,188.7 L780.3,188.2 L780.5,188.4 L780.7,187.6 L780.9,188.2 L781.1,188.0 L781.3,187.5 L781.5,187.3 L781.7,186.9 L781.9,187.4 L782.1,187.6 L782.3,187.7 L782.5,188.3 L782.7,187.8 L782.9,187.5 L783.1,186.8 L783.3,187.2 L783.5,186.9 L783.7,181.6 L783.9,186.8 L784.1,186.8 L784.3,185.5 L784.5,186.5 L784.7,186.1 L784.9,186.8 L785.1,187.3 L785.3,186.3 L785.5,186.5 L785.7,186.1 L785.9,186.4 L786.1,187.0 L786.3,187.7 L786.5,187.3 L786.7,188.2 L786.9,182.4 L787.1,188.0 L787.3,188.2 L787.5,188.0 L787.7,187.4 L787.9,187.5 L788.1,187.4 L788.3,187.5 L788.5,187.7 L788.7,186.9 L788.9,181.6 L789.1,187.9 L789.3,187.9 L789.5,188.0 L789.7,188.4 L789.9,187.8 L790.1,187.9 L790.3,188.0 L790.5,188.4 L790.7,187.3 L790.9,185.6 L791.1,187.9 L791.3,187.9 L791.5,187.6 L791.7,182.3 L791.9,187.6 L792.1,187.4 L792.3,187.7 L792.5,187.2 L792.7,188.3 L792.9,188.2 L793.1,187.7 L793.3,187.7 L793.5,187.6 L793.7,187.4 L793.9,187.7 L794.1,182.4 L794.3,187.2 L794.5,186.8 L794.7,186.9 L794.9,186.7 L795.1,187.2 L795.3,146.0 L795.5,175.8 L795.7,187.6 L795.9,186.9 L796.1,186.8 L796.3,186.6 L796.5,187.1 L796.7,186.9 L796.9,187.1 L797.1,186.5 L797.3,187.0 L797.5,187.5 L797.7,187.0 L797.9,187.2 L798.1,187.3 L798.3,187.8 L798.5,187.6 L798.7,187.6 L798.9,187.6 L799.1,181.6 L799.3,187.9 L799.5,188.5 L799.7,187.4 L799.9,188.1 L800.1,187.6 L800.3,187.6 L800.5,184.4 L800.7,187.6 L800.9,187.1 L801.1,187.9 L801.3,186.8 L801.5,187.4 L801.7,181.6 L801.9,187.1 L802.1,187.5 L802.3,187.6 L802.5,187.5 L802.7,187.8 L802.9,181.6 L803.1,187.4 L803.3,188.4 L803.5,188.4 L803.7,188.2 L803.9,188.0 L804.1,185.6 L804.3,187.6 L804.5,187.2 L804.7,187.1 L804.9,187.5 L805.1,186.6 L805.3,186.6 L805.5,186.1 L805.7,186.8 L805.9,187.0 L806.1,186.4 L806.3,178.9 L806.5,186.7 L806.7,177.2 L806.9,187.0 L807.1,186.9 L807.3,187.7 L807.5,185.8 L807.7,187.2 L807.9,186.8 L808.1,182.9 L808.3,183.3 L808.5,187.6 L808.7,188.2 L808.9,188.4 L809.1,187.9 L809.3,188.0 L809.5,188.6 L809.7,189.0 L809.9,188.1 L810.1,188.7 L810.3,188.2 L810.5,188.3 L810.7,188.3 L810.9,187.8 L811.1,187.5 L811.3,187.3 L811.5,187.5 L811.7,185.6 L811.9,188.6 L812.1,188.3 L812.3,188.2 L812.5,187.8 L812.7,188.3 L812.9,188.5 L813.1,188.0 L813.3,188.0 L813.5,188.6 L813.7,188.1 L813.9,187.7 L814.1,188.2 L814.3,188.0 L814.5,188.2 L814.7,187.9 L814.9,187.6 L815.1,187.7 L815.3,187.5 L815.5,187.0 L815.7,187.1 L815.9,187.6 L816.1,187.3 L816.3,187.4 L816.5,186.6 L816.7,186.7 L816.9,186.7 L817.1,186.6 L817.3,186.7 L817.5,187.1 L817.7,187.9 L817.9,187.5 L818.1,187.2 L818.3,187.9 L818.5,186.7 L818.7,187.4 L818.9,187.4 L819.1,187.1 L819.3,187.5 L819.5,187.3 L819.7,187.1 L819.9,186.9 L820.1,186.8 L820.3,187.2 L820.5,187.1 L820.7,187.1 L820.9,175.3 L821.1,185.3 L821.3,186.6 L821.5,179.1 L821.7,186.8 L821.9,185.8 L822.1,187.0 L822.3,186.6 L822.5,186.5 L822.7,186.5 L822.9,186.6 L823.1,186.2 L823.3,177.8 L823.5,186.8 L823.7,186.2 L823.9,186.8 L824.1,186.4 L824.3,186.2 L824.5,186.1 L824.7,186.5 L824.9,186.9 L825.1,186.6 L825.3,186.4 L825.5,186.5 L825.7,187.0 L825.9,186.5 L826.1,186.5 L826.3,186.9 L826.5,186.6 L826.7,186.5 L826.9,186.2 L827.1,186.9 L827.3,186.2 L827.5,186.6 L827.7,186.4 L827.9,186.2 L828.1,186.5 L828.3,187.1 L828.5,187.5 L828.7,187.0 L828.9,186.8 L829.1,183.3 L829.3,187.3 L829.5,185.9 L829.7,179.1 L829.9,184.1 L830.1,187.7 L830.3,187.3 L830.5,186.9 L830.7,185.5 L830.9,186.0 L831.1,186.9 L831.3,187.0 L831.5,187.5 L831.7,186.8 L831.9,186.9 L832.1,186.5 L832.3,177.8 L832.5,187.0 L832.7,186.0 L832.9,186.3 L833.1,184.1 L833.3,182.0 L833.5,183.6 L833.7,186.0 L833.9,185.5 L834.1,184.9 L834.3,142.1 L834.5,185.3 L834.7,186.3 L834.9,186.5 L835.1,186.4 L835.3,187.0 L835.5,184.3 L835.7,185.0 L835.9,182.0 L836.1,186.3 L836.3,135.8 L836.5,177.0 L836.7,186.5 L836.9,186.3 L837.1,185.8 L837.3,186.6 L837.5,186.1 L837.7,186.5 L837.9,186.9 L838.1,186.3 L838.3,186.9 L838.5,186.2 L838.7,43.9 L838.9,166.6 L839.1,185.6 L839.3,184.4 L839.5,185.8 L839.7,185.2 L839.9,175.3 L840.1,180.9 L840.3,184.2 L840.5,184.6 L840.7,184.4 L840.9,184.3 L841.1,184.2 L841.3,183.4 L841.5,184.7 L841.7,184.3 L841.9,184.1 L842.1,184.3 L842.3,184.9 L842.5,184.7 L842.7,184.8 L842.9,185.2 L843.1,184.2 L843.3,184.5 L843.5,185.2 L843.7,186.0 L843.9,183.0 L844.1,186.2 L844.3,186.5 L844.5,186.8 L844.7,186.5 L844.9,186.9 L845.1,186.5 L845.3,187.1 L845.5,187.4 L845.7,177.3 L845.9,187.3 L846.1,187.1 L846.3,187.6 L846.5,187.4 L846.7,187.5 L846.9,187.2 L847.1,186.6 L847.3,186.8 L847.5,187.4 L847.7,187.6 L847.9,187.3 L848.1,186.8 L848.3,186.4 L848.5,187.1 L848.7,186.5 L848.9,187.0 L849.1,187.2 L849.3,186.9 L849.5,187.5 L849.7,187.3 L849.9,186.7 L850.1,187.1 L850.3,186.8 L850.5,186.1 L850.7,186.7 L850.9,186.7 L851.1,187.2 L851.3,187.6 L851.5,186.9 L851.7,187.1 L851.9,187.3 L852.1,187.2 L852.3,187.1 L852.5,186.7 L852.7,186.5 L852.9,187.4 L853.1,186.7 L853.3,186.6 L853.5,186.0 L853.7,186.3 L853.9,186.5 L854.1,186.8 L854.3,186.7 L854.5,187.4 L854.7,186.7 L854.9,186.8 L855.1,186.7 L855.3,187.0 L855.5,186.8 L855.7,179.8 L855.9,186.8 L856.1,187.0 L856.3,187.1 L856.5,187.1 L856.7,187.8 L856.9,188.2 L857.1,187.7 L857.3,187.9 L857.5,188.2 L857.7,188.7 L857.9,188.2 L858.1,187.5 L858.3,188.3 L858.5,187.9 L858.7,187.4 L858.9,187.8 L859.1,187.5 L859.3,188.2 L859.5,187.5 L859.7,186.9 L859.9,187.3 L860.1,187.0 L860.3,188.0 L860.5,187.2 L860.7,187.0 L860.9,187.7 L861.1,187.6 L861.3,187.6 L861.5,187.0 L861.7,187.9 L861.9,188.0 L862.1,187.3 L862.3,188.2 L862.5,183.1 L862.7,188.2 L862.9,187.5 L863.1,187.4 L863.3,187.6 L863.5,187.8 L863.7,187.3 L863.9,187.2 L864.1,186.7 L864.3,186.0 L864.5,187.2 L864.7,186.9 L864.9,187.0 L865.1,183.0 L865.3,182.9 L865.5,186.9 L865.7,187.3 L865.9,187.3 L866.1,187.8 L866.3,188.6 L866.5,188.4 L866.7,188.6 L866.9,188.7 L867.1,188.2 L867.3,188.4 L867.5,187.8 L867.7,188.4 L867.9,186.7 L868.1,187.8 L868.3,187.4 L868.5,188.4 L868.7,187.9 L868.9,188.3 L869.1,188.0 L869.3,187.8 L869.5,188.6 L869.7,188.4 L869.9,187.8 L870.1,184.4 L870.3,187.3 L870.5,177.8 L870.7,187.7 L870.9,187.2 L871.1,187.3 L871.3,187.4 L871.5,188.1 L871.7,188.0 L871.9,185.3 L872.1,187.6 L872.3,187.0 L872.5,187.5 L872.7,187.3 L872.9,185.2 L873.1,187.9 L873.3,187.3 L873.5,184.1 L873.7,187.6 L873.9,187.1 L874.1,187.2 L874.3,186.1 L874.5,187.3 L874.7,187.2 L874.9,187.2 L875.1,187.4 L875.3,187.8 L875.5,187.5 L875.7,187.7 L875.9,187.5 L876.1,187.8 L876.3,188.5 L876.5,188.5 L876.7,187.9 L876.9,188.3 L877.1,188.3 L877.3,187.7 L877.5,188.1 L877.7,187.7 L877.9,187.2 L878.1,186.9 L878.3,187.6 L878.5,186.7 L878.7,187.4 L878.9,187.7 L879.1,187.7 L879.3,187.1 L879.5,187.2 L879.7,187.4 L879.9,187.5 L880.1,187.2 L880.3,187.4 L880.5,188.0 L880.7,187.7 L880.9,187.2 L881.1,186.6 L881.3,186.7 L881.5,186.9 L881.7,187.2 L881.9,186.3 L882.1,186.9 L882.3,187.1 L882.5,186.7 L882.7,186.9 L882.9,186.8 L883.1,186.8 L883.3,187.1 L883.5,186.8 L883.7,187.5 L883.9,186.3 L884.1,188.0 L884.3,188.3 L884.5,187.1 L884.7,186.9 L884.9,187.4 L885.1,185.8 L885.3,188.0 L885.5,187.4 L885.7,184.7 L885.9,187.5 L886.1,187.1 L886.3,186.9 L886.5,188.3 L886.7,187.7 L886.9,187.8 L887.1,181.6 L887.3,187.3 L887.5,186.8 L887.7,186.8 L887.9,186.2 L888.1,185.3 L888.3,187.1 L888.5,186.9 L888.7,187.0 L888.9,185.7 L889.1,186.5 L889.3,186.3 L889.5,187.1 L889.7,186.6 L889.9,186.8 L890.1,186.6 L890.3,186.6 L890.5,186.5 L890.7,186.8 L890.9,186.0 L891.1,185.7 L891.3,178.3 L891.5,186.9 L891.7,186.8 L891.9,187.4 L892.1,187.3 L892.3,187.1 L892.5,186.5 L892.7,187.3 L892.9,187.0 L893.1,185.9 L893.3,187.2 L893.5,186.8 L893.7,187.2 L893.9,187.9 L894.1,187.5 L894.3,187.4 L894.5,187.1 L894.7,187.4 L894.9,187.1 L895.1,186.9 L895.3,186.4 L895.5,186.1 L895.7,183.5 L895.9,184.9 L896.1,186.3 L896.3,186.4 L896.5,187.3 L896.7,187.3 L896.9,187.5 L897.1,187.3 L897.3,175.3 L897.5,187.1 L897.7,172.8 L897.9,184.6 L898.1,187.4 L898.3,186.5 L898.5,186.3 L898.7,186.5 L898.9,186.5 L899.1,139.6 L899.3,178.0 L899.5,191.3 L899.7,191.4 L899.9,192.0 L900.1,189.5 L900.3,191.5 L900.5,191.2 L900.7,190.4 L900.9,190.5 L901.1,190.1 L901.3,191.2 L901.5,190.4 L901.7,191.1 L901.9,189.8 L902.1,190.5 L902.3,190.3 L902.5,190.1 L902.7,190.0 L902.9,189.3 L903.1,188.5 L903.3,189.3 L903.5,188.7 L903.7,127.3 L903.9,181.2 L904.1,189.9 L904.3,189.6 L904.5,190.6 L904.7,190.4 L904.9,176.5 L905.1,190.5 L905.3,190.2 L905.5,190.2 L905.7,190.4 L905.9,189.7 L906.1,189.3 L906.3,189.2 L906.5,189.4 L906.7,188.5 L906.9,188.3 L907.1,188.5 L907.3,83.5 L907.5,153.9 L907.7,188.3 L907.9,188.4 L908.1,189.3 L908.3,189.4 L908.5,189.6 L908.7,175.3 L908.9,190.2 L909.1,190.1 L909.3,190.6 L909.5,190.2 L909.7,189.7 L909.9,190.0 L910.1,190.0 L910.3,190.3 L910.5,190.1 L910.7,189.7 L910.9,190.0 L911.1,190.6 L911.3,190.6 L911.5,190.6 L911.7,191.2 L911.9,190.7 L912.1,190.5 L912.3,191.0 L912.5,191.5 L912.7,190.4 L912.9,191.1 L913.1,191.4 L913.3,192.0 L913.5,190.9 L913.7,192.4 L913.9,191.7 L914.1,191.9 L914.3,192.2 L914.5,192.7 L914.7,192.6 L914.9,192.3 L915.1,192.9 L915.3,192.2 L915.5,191.6" fill="none" stroke="#ff0000" stroke-width="0.8" stroke-linejoin="miter" stroke-miterlimit="2"/>
</g>
<g id="chart2">
<rect class="ax" x="626.8" y="273.5" width="300.5" height="156.9"/>
<path class="ax" d="M637.6,430.4v7.8M677.3,430.4v7.8M717.0,430.4v7.8M756.7,430.4v7.8M796.4,430.4v7.8M836.1,430.4v7.8M875.8,430.4v7.8M915.5,430.4v7.8M626.8,278.6h-8.5M626.8,303.1h-8.5M626.8,327.6h-8.5M626.8,352.1h-8.5M626.8,376.6h-8.5M626.8,401.1h-8.5M626.8,425.6h-8.5"/>
<text class="a" font-size="18.7" text-anchor="middle" transform="translate(609.9,279.2) rotate(-90)">6</text>
<text class="a" font-size="18.7" text-anchor="middle" transform="translate(609.9,328.2) rotate(-90)">4</text>
<text class="a" font-size="18.7" text-anchor="middle" transform="translate(609.9,377.2) rotate(-90)">2</text>
<text class="a" font-size="18.7" text-anchor="middle" transform="translate(609.9,426.2) rotate(-90)">0</text>
<text class="a" font-size="18.4" text-anchor="middle" transform="translate(581.4,352.0) rotate(-90)">Level(m)</text>
<text class="a" font-size="18" x="742.0" y="486.1">Time(hr)</text>
<text class="x" font-size="12.3" textLength="34.4" lengthAdjust="spacingAndGlyphs" text-anchor="middle" x="623.2" y="451.8">2011-</text>
<text class="x" font-size="12.3" text-anchor="middle" x="623.6" y="466.9">01</text>
<text class="x" font-size="12.3" textLength="34.4" lengthAdjust="spacingAndGlyphs" text-anchor="middle" x="666.2" y="451.8">2012-</text>
<text class="x" font-size="12.3" text-anchor="middle" x="666.6" y="466.9">02</text>
<text class="x" font-size="12.3" textLength="34.4" lengthAdjust="spacingAndGlyphs" text-anchor="middle" x="709.6" y="451.8">2013-</text>
<text class="x" font-size="12.3" text-anchor="middle" x="710.0" y="466.9">04</text>
<text class="x" font-size="12.3" textLength="34.4" lengthAdjust="spacingAndGlyphs" text-anchor="middle" x="752.6" y="453.0">2014-</text>
<text class="x" font-size="12.3" text-anchor="middle" x="753.0" y="467.6">06</text>
<text class="x" font-size="12.3" textLength="34.4" lengthAdjust="spacingAndGlyphs" text-anchor="middle" x="795.5" y="451.8">2015-</text>
<text class="x" font-size="12.3" text-anchor="middle" x="795.9" y="466.9">07</text>
<text class="x" font-size="12.3" textLength="34.4" lengthAdjust="spacingAndGlyphs" text-anchor="middle" x="839.1" y="451.8">2016-</text>
<text class="x" font-size="12.3" text-anchor="middle" x="839.5" y="466.9">09</text>
<text class="x" font-size="12.3" textLength="34.4" lengthAdjust="spacingAndGlyphs" text-anchor="middle" x="882" y="451.8">2017-</text>
<text class="x" font-size="12.3" text-anchor="middle" x="882.4" y="466.9">11</text>
<text class="x" font-size="12.3" textLength="34.4" lengthAdjust="spacingAndGlyphs" text-anchor="middle" x="925.2" y="451.8">2018-</text>
<text class="x" font-size="12.3" text-anchor="middle" x="925.6" y="466.9">12</text>
<path d="M637.0,392.4H638.0V393.9H639.0V391.9H640.0V393.4H641.0V391.6H642.0V391.2H643.0V392.2H644.0V392.5H645.0V393.4H646.0V392.6H647.0V392.3H648.0V392.3H649.0V392.8H650.0V391.5H651.0V391.7H652.0V391.7H653.0V390.0H654.0V388.8H655.0V390.1H656.0V388.9H657.0V387.5H658.0V385.4H659.0V386.8H660.0V387.8H661.0V387.8H662.0V388.4H663.0V386.9H664.0V388.1H665.0V387.1H666.0V388.9H667.0V387.0H668.0V390.8H669.0V389.6H670.0V390.8H671.0V390.2H672.0V391.2H673.0V392.0H674.0V393.6H675.0V392.5H676.0V393.9H677.0V393.7H678.0V392.4H679.0V391.7H680.0V393.7H681.0V392.3H682.0V393.0H683.0V393.6H684.0V391.0H685.0V392.2H686.0V392.7H687.0V392.8H688.0V392.1H689.0V392.2H690.0V391.3H691.0V391.1H692.0V387.5H693.0V389.1H694.0V386.8H695.0V386.8H696.0V389.3H697.0V387.2H698.0V389.4H699.0V388.3H700.0V389.0H701.0V388.0H702.0V383.2H703.0V391.1H704.0V388.2H705.0V391.2H706.0V388.0H707.0V392.8H708.0V390.2H709.0V393.1H710.0V392.9H711.0V394.7H712.0V392.5H713.0V391.7H714.0V394.5H715.0V395.1H716.0V383.5H717.0V392.6H718.0V393.2H719.0V392.5H720.0V391.2H721.0V387.2H722.0V390.7H723.0V389.1H724.0V389.9H725.0V390.1H726.0V388.3H727.0V390.0H728.0V388.5H729.0V388.6H730.0V388.8H731.0V387.1H732.0V386.1H733.0V388.5H734.0V387.8H735.0V388.8H736.0V389.4H737.0V390.9H738.0V391.6H739.0V389.3H740.0V391.4H741.0V392.5H742.0V391.5H743.0V390.8H744.0V392.7H745.0V393.3H746.0V393.4H747.0V393.0H748.0V391.3H749.0V391.4H750.0V393.0H751.0V392.5H752.0V388.7H753.0V389.7H754.0V390.3H755.0V389.5H756.0V390.5H757.0V388.8H758.0V388.8H759.0V387.6H760.0V386.9H761.0V387.9H762.0V388.0H763.0V387.4H764.0V386.7H765.0V388.0H766.0V387.1H767.0V387.7H768.0V386.4H769.0V387.4H770.0V388.4H771.0V389.2H772.0V389.2H773.0V391.0H774.0V393.0H775.0V390.9H776.0V392.0H777.0V392.5H778.0V393.5H779.0V393.3H780.0V391.9H781.0V393.2H782.0V392.5H783.0V392.2H784.0V392.0H785.0V391.6H786.0V392.9H787.0V393.1H788.0V391.9H789.0V391.3H790.0V392.2H791.0V391.4H792.0V389.6H793.0V391.0H794.0V390.0H795.0V388.4H796.0V388.1H797.0V386.9H798.0V387.3H799.0V387.7H800.0V387.1H801.0V389.1H802.0V388.1H803.0V389.4H804.0V389.3H805.0V389.3H806.0V386.8H807.0V388.1H808.0V389.3H809.0V390.7H810.0V392.2H811.0V390.9H812.0V393.1H813.0V393.5H814.0V394.5H815.0V394.8H816.0V394.5H817.0V392.8H818.0V394.6H819.0V394.2H820.0V395.6H821.0V393.8H822.0V392.7H823.0V393.9H824.0V392.9H825.0V392.5H826.0V392.0H827.0V392.7H828.0V391.1H829.0V390.1H830.0V391.4H831.0V391.0H832.0V390.2H833.0V389.6H834.0V388.2H835.0V388.3H836.0V388.6H837.0V387.9H838.0V390.3H839.0V389.4H840.0V386.7H841.0V381.1H842.0V387.3H843.0V390.4H844.0V391.3H845.0V391.2H846.0V391.5H847.0V389.6H848.0V392.9H849.0V392.8H850.0V390.7H851.0V393.9H852.0V392.0H853.0V392.7H854.0V391.7H855.0V393.4H856.0V391.5H857.0V393.2H858.0V391.7H859.0V393.0H860.0V391.0H861.0V390.2H862.0V391.4H863.0V389.7H864.0V388.0H865.0V390.6H866.0V389.9H867.0V387.9H868.0V388.1H869.0V388.1H870.0V387.6H871.0V387.5H872.0V387.6H873.0V386.0H874.0V387.8H875.0V388.9H876.0V389.9H877.0V390.6H878.0V389.5H879.0V390.2H880.0V390.0H881.0V392.1H882.0V393.5H883.0V394.2H884.0V383.3H885.0V394.2H886.0V392.5H887.0V390.8H888.0V391.5H889.0V392.6H890.0V393.3H891.0V392.8H892.0V393.2H893.0V393.1H894.0V392.4H895.0V390.3H896.0V393.0H897.0V391.9H898.0V390.1H899.0V391.9H900.0V390.5H901.0V390.0H902.0V386.8H903.0V386.4H904.0V387.8H905.0V388.4H906.0V388.0H907.0V387.7H908.0V389.6H909.0V389.5H910.0V390.6H911.0V389.1H912.0V391.2H913.0V390.4H914.0V391.9H915.0V392.2H916.0V407.6H915.0V407.4H914.0V406.7H913.0V407.4H912.0V405.7H911.0V406.0H910.0V405.6H909.0V405.2H908.0V405.0H907.0V404.8H906.0V404.8H905.0V403.9H904.0V404.3H903.0V404.6H902.0V404.2H901.0V404.7H900.0V404.6H899.0V406.1H898.0V405.4H897.0V405.7H896.0V407.1H895.0V406.9H894.0V406.6H893.0V408.7H892.0V408.0H891.0V407.9H890.0V408.5H889.0V408.4H888.0V409.6H887.0V410.2H886.0V408.6H885.0V409.3H884.0V409.5H883.0V407.4H882.0V407.5H881.0V406.9H880.0V405.4H879.0V405.5H878.0V404.9H877.0V405.2H876.0V404.3H875.0V404.1H874.0V404.5H873.0V403.9H872.0V404.4H871.0V404.0H870.0V404.6H869.0V404.4H868.0V404.5H867.0V406.0H866.0V406.2H865.0V405.9H864.0V406.5H863.0V407.3H862.0V408.2H861.0V408.1H860.0V408.5H859.0V408.5H858.0V409.5H857.0V408.4H856.0V409.4H855.0V408.3H854.0V408.4H853.0V407.6H852.0V408.0H851.0V408.0H850.0V407.5H849.0V406.8H848.0V407.8H847.0V406.1H846.0V406.0H845.0V405.9H844.0V405.7H843.0V404.7H842.0V405.7H841.0V405.2H840.0V404.2H839.0V404.3H838.0V405.0H837.0V404.1H836.0V405.8H835.0V405.6H834.0V405.2H833.0V405.5H832.0V406.5H831.0V406.4H830.0V406.2H829.0V408.7H828.0V406.7H827.0V407.3H826.0V408.2H825.0V408.5H824.0V408.1H823.0V407.9H822.0V408.5H821.0V408.1H820.0V408.6H819.0V408.6H818.0V408.5H817.0V408.3H816.0V408.3H815.0V407.5H814.0V407.7H813.0V408.5H812.0V407.4H811.0V407.5H810.0V406.7H809.0V406.5H808.0V406.9H807.0V406.1H806.0V406.4H805.0V405.7H804.0V404.9H803.0V405.1H802.0V407.1H801.0V405.2H800.0V405.4H799.0V405.5H798.0V405.2H797.0V406.2H796.0V405.9H795.0V406.1H794.0V406.6H793.0V406.8H792.0V407.1H791.0V407.3H790.0V407.5H789.0V408.8H788.0V409.9H787.0V410.0H786.0V408.5H785.0V409.2H784.0V409.1H783.0V408.4H782.0V408.6H781.0V408.1H780.0V408.4H779.0V408.3H778.0V407.4H777.0V407.5H776.0V407.7H775.0V407.2H774.0V407.3H773.0V406.6H772.0V406.0H771.0V406.0H770.0V405.4H769.0V404.6H768.0V404.9H767.0V403.8H766.0V403.6H765.0V404.4H764.0V405.5H763.0V405.2H762.0V404.5H761.0V405.3H760.0V406.7H759.0V405.6H758.0V406.2H757.0V406.8H756.0V407.1H755.0V406.9H754.0V408.5H753.0V408.8H752.0V408.2H751.0V408.6H750.0V408.4H749.0V408.2H748.0V408.3H747.0V409.6H746.0V409.0H745.0V408.2H744.0V408.6H743.0V407.8H742.0V407.4H741.0V408.5H740.0V408.0H739.0V407.4H738.0V407.8H737.0V406.6H736.0V406.0H735.0V406.2H734.0V405.7H733.0V405.3H732.0V405.1H731.0V404.7H730.0V404.9H729.0V404.8H728.0V404.9H727.0V405.4H726.0V405.3H725.0V405.6H724.0V405.6H723.0V407.3H722.0V407.7H721.0V406.9H720.0V407.3H719.0V407.5H718.0V408.2H717.0V407.5H716.0V408.4H715.0V408.4H714.0V408.7H713.0V407.9H712.0V407.7H711.0V407.3H710.0V407.5H709.0V407.4H708.0V407.0H707.0V406.5H706.0V406.1H705.0V408.6H704.0V406.0H703.0V405.2H702.0V405.1H701.0V404.2H700.0V405.6H699.0V403.7H698.0V404.2H697.0V405.2H696.0V403.6H695.0V405.0H694.0V404.6H693.0V404.4H692.0V406.0H691.0V405.8H690.0V405.6H689.0V406.3H688.0V406.6H687.0V408.2H686.0V408.2H685.0V407.7H684.0V409.9H683.0V407.8H682.0V407.7H681.0V408.8H680.0V408.7H679.0V408.7H678.0V408.8H677.0V408.6H676.0V408.5H675.0V408.4H674.0V408.4H673.0V407.6H672.0V409.0H671.0V407.2H670.0V406.7H669.0V406.3H668.0V405.9H667.0V406.1H666.0V405.0H665.0V405.3H664.0V404.7H663.0V405.3H662.0V404.3H661.0V405.5H660.0V406.6H659.0V405.7H658.0V405.0H657.0V405.8H656.0V405.1H655.0V405.9H654.0V406.3H653.0V406.0H652.0V407.1H651.0V406.3H650.0V407.0H649.0V407.4H648.0V408.8H647.0V408.7H646.0V408.9H645.0V408.6H644.0V409.2H643.0V409.8H642.0V408.8H641.0V408.4H640.0V408.2H639.0V408.3H638.0V407.7H637.0Z" fill="#000" stroke="#000" stroke-width="0.3"/>
<path d="M649.5,381.5V400M653.5,344.4V400M654.5,359.6V400M682.5,378.1V400M690.5,381.5V400M696.5,320.8V400M697.5,378.1V400M733.5,384.8V400M761.5,371.4V400M763.5,352.8V400M764.5,383.2V400M795.5,381.6V400M834.5,377.2V400M836.5,371.4V400M838.5,287.7V400M899.5,374.8V400M903.5,363.0V400M907.5,325.9V400" fill="none" stroke="#000" stroke-width="1"/>
</g>
<g id="chart3">
<rect class="ax" x="627.7" y="502.1" width="301.2" height="158.4"/>
<path class="ax" d="M639.5,660.5v7.8M679.2,660.5v7.8M718.9,660.5v7.8M758.6,660.5v7.8M798.3,660.5v7.8M838.0,660.5v7.8M877.7,660.5v7.8M917.4,660.5v7.8M627.7,508.3h-8.5M627.7,544.9h-8.5M627.7,581.5h-8.5M627.7,618.1h-8.5M627.7,654.7h-8.5"/>
<text class="a" font-size="18.7" text-anchor="middle" transform="translate(609.9,508.0) rotate(-90)">1.5</text>
<text class="a" font-size="18.7" text-anchor="middle" transform="translate(609.9,581.0) rotate(-90)">0.5</text>
<text class="a" font-size="18.7" text-anchor="middle" transform="translate(609.9,654.4) rotate(-90)">-0.5</text>
<text class="a" font-size="18.4" text-anchor="middle" transform="translate(581.4,581.6) rotate(-90)">Level(m)</text>
<text class="a" font-size="18" x="744.4" y="714.4">Time(hr)</text>
<text class="x" font-size="12.3" textLength="34.4" lengthAdjust="spacingAndGlyphs" text-anchor="middle" x="623.2" y="680.2">2011-</text>
<text class="x" font-size="12.3" text-anchor="middle" x="623.6" y="696.1">01</text>
<text class="x" font-size="12.3" textLength="34.4" lengthAdjust="spacingAndGlyphs" text-anchor="middle" x="666.2" y="680.2">2012-</text>
<text class="x" font-size="12.3" text-anchor="middle" x="666.6" y="696.1">02</text>
<text class="x" font-size="12.3" textLength="34.4" lengthAdjust="spacingAndGlyphs" text-anchor="middle" x="709.6" y="680.2">2013-</text>
<text class="x" font-size="12.3" text-anchor="middle" x="710.0" y="696.1">04</text>
<text class="x" font-size="12.3" textLength="34.4" lengthAdjust="spacingAndGlyphs" text-anchor="middle" x="752.6" y="681.4">2014-</text>
<text class="x" font-size="12.3" text-anchor="middle" x="753.0" y="696.8">06</text>
<text class="x" font-size="12.3" textLength="34.4" lengthAdjust="spacingAndGlyphs" text-anchor="middle" x="795.5" y="680.2">2015-</text>
<text class="x" font-size="12.3" text-anchor="middle" x="795.9" y="696.1">07</text>
<text class="x" font-size="12.3" textLength="34.4" lengthAdjust="spacingAndGlyphs" text-anchor="middle" x="839.1" y="680.2">2016-</text>
<text class="x" font-size="12.3" text-anchor="middle" x="839.5" y="696.1">09</text>
<text class="x" font-size="12.3" textLength="34.4" lengthAdjust="spacingAndGlyphs" text-anchor="middle" x="882" y="680.2">2017-</text>
<text class="x" font-size="12.3" text-anchor="middle" x="882.4" y="696.1">11</text>
<text class="x" font-size="12.3" textLength="34.4" lengthAdjust="spacingAndGlyphs" text-anchor="middle" x="925.2" y="680.2">2018-</text>
<text class="x" font-size="12.3" text-anchor="middle" x="925.6" y="696.1">12</text>
<path d="M639.0,579.8H640.0V582.9H641.0V585.6H642.0V576.8H643.0V579.9H644.0V576.6H645.0V581.3H646.0V574.4H647.0V578.7H648.0V569.9H649.0V576.7H650.0V571.1H651.0V575.4H652.0V577.8H653.0V575.8H654.0V572.1H655.0V567.2H656.0V567.3H657.0V568.6H658.0V565.6H659.0V562.5H660.0V572.2H661.0V569.8H662.0V573.8H663.0V572.6H664.0V573.8H665.0V574.8H666.0V578.1H667.0V573.5H668.0V575.5H669.0V574.5H670.0V581.8H671.0V585.7H672.0V576.0H673.0V579.3H674.0V576.3H675.0V580.3H676.0V577.2H677.0V572.4H678.0V577.3H679.0V572.7H680.0V574.7H681.0V567.0H682.0V573.2H683.0V571.2H684.0V569.7H685.0V568.3H686.0V572.4H687.0V571.4H688.0V575.1H689.0V574.5H690.0V569.0H691.0V568.0H692.0V569.5H693.0V570.0H694.0V569.1H695.0V568.0H696.0V558.0H697.0V555.2H698.0V530.8H699.0V545.0H700.0V564.5H701.0V567.1H702.0V571.2H703.0V570.7H704.0V574.8H705.0V570.0H706.0V581.8H707.0V582.0H708.0V586.8H709.0V585.7H710.0V578.9H711.0V584.6H712.0V579.8H713.0V582.7H714.0V578.9H715.0V579.1H716.0V570.0H717.0V578.5H718.0V572.3H719.0V571.5H720.0V574.2H721.0V564.5H722.0V563.9H723.0V564.7H724.0V563.6H725.0V560.5H726.0V559.8H727.0V563.0H728.0V561.3H729.0V566.6H730.0V567.8H731.0V565.0H732.0V567.8H733.0V566.1H734.0V564.0H735.0V557.3H736.0V562.4H737.0V562.4H738.0V571.7H739.0V570.0H740.0V572.8H741.0V576.9H742.0V570.5H743.0V582.1H744.0V576.7H745.0V579.2H746.0V579.1H747.0V580.7H748.0V581.3H749.0V580.6H750.0V569.9H751.0V581.9H752.0V574.6H753.0V572.6H754.0V572.6H755.0V575.9H756.0V573.9H757.0V564.9H758.0V569.1H759.0V568.4H760.0V566.8H761.0V567.2H762.0V563.0H763.0V558.0H764.0V552.9H765.0V558.6H766.0V553.5H767.0V559.6H768.0V565.3H769.0V557.9H770.0V566.8H771.0V567.3H772.0V571.0H773.0V569.4H774.0V565.7H775.0V570.3H776.0V579.1H777.0V572.6H778.0V576.0H779.0V579.6H780.0V573.3H781.0V584.2H782.0V586.7H783.0V581.5H784.0V584.4H785.0V577.7H786.0V584.0H787.0V577.5H788.0V581.7H789.0V580.4H790.0V570.2H791.0V574.3H792.0V572.7H793.0V574.7H794.0V572.8H795.0V573.3H796.0V569.2H797.0V567.6H798.0V559.7H799.0V560.6H800.0V558.9H801.0V551.0H802.0V554.4H803.0V559.3H804.0V562.9H805.0V568.4H806.0V568.7H807.0V572.2H808.0V569.8H809.0V575.3H810.0V570.5H811.0V568.7H812.0V580.4H813.0V572.7H814.0V576.6H815.0V574.6H816.0V577.7H817.0V574.6H818.0V578.4H819.0V576.6H820.0V572.6H821.0V571.6H822.0V578.6H823.0V576.9H824.0V574.9H825.0V568.3H826.0V576.4H827.0V575.7H828.0V576.7H829.0V576.1H830.0V572.3H831.0V567.0H832.0V557.1H833.0V555.2H834.0V563.4H835.0V560.4H836.0V558.1H837.0V550.5H838.0V542.7H839.0V555.8H840.0V558.1H841.0V569.0H842.0V569.1H843.0V569.9H844.0V572.4H845.0V571.0H846.0V575.2H847.0V577.3H848.0V578.5H849.0V581.0H850.0V579.5H851.0V577.8H852.0V579.5H853.0V578.8H854.0V582.3H855.0V577.9H856.0V574.2H857.0V576.2H858.0V578.9H859.0V569.3H860.0V567.0H861.0V572.2H862.0V571.2H863.0V563.1H864.0V562.0H865.0V566.4H866.0V564.2H867.0V559.0H868.0V553.9H869.0V566.5H870.0V563.3H871.0V561.9H872.0V560.2H873.0V557.0H874.0V558.3H875.0V559.9H876.0V571.3H877.0V571.0H878.0V569.8H879.0V571.0H880.0V577.6H881.0V584.2H882.0V587.9H883.0V583.6H884.0V587.5H885.0V576.6H886.0V585.4H887.0V587.2H888.0V582.0H889.0V582.0H890.0V581.2H891.0V581.3H892.0V579.3H893.0V575.9H894.0V577.1H895.0V567.6H896.0V574.5H897.0V565.9H898.0V563.1H899.0V562.1H900.0V564.8H901.0V567.6H902.0V564.6H903.0V559.5H904.0V561.5H905.0V558.1H906.0V554.9H907.0V551.3H908.0V541.0H909.0V566.9H910.0V562.1H911.0V573.2H912.0V575.1H913.0V573.1H914.0V572.8H915.0V573.1H916.0V576.9H917.0V569.9H918.0V616.4H917.0V620.6H916.0V616.8H915.0V611.3H914.0V610.4H913.0V611.4H912.0V609.3H911.0V609.3H910.0V603.1H909.0V601.4H908.0V596.5H907.0V598.3H906.0V603.1H905.0V603.8H904.0V603.0H903.0V605.6H902.0V606.3H901.0V606.4H900.0V612.2H899.0V611.8H898.0V615.8H897.0V620.7H896.0V619.9H895.0V615.7H894.0V623.5H893.0V622.0H892.0V625.3H891.0V626.4H890.0V626.0H889.0V624.9H888.0V621.6H887.0V625.5H886.0V625.6H885.0V626.4H884.0V618.9H883.0V619.2H882.0V621.4H881.0V618.2H880.0V612.5H879.0V615.6H878.0V616.6H877.0V608.5H876.0V604.1H875.0V601.9H874.0V597.3H873.0V596.2H872.0V602.1H871.0V595.6H870.0V596.7H869.0V597.2H868.0V598.0H867.0V605.7H866.0V606.4H865.0V608.7H864.0V612.9H863.0V607.0H862.0V611.0H861.0V605.3H860.0V606.5H859.0V616.1H858.0V608.5H857.0V618.5H856.0V614.5H855.0V616.7H854.0V614.3H853.0V614.9H852.0V611.2H851.0V612.0H850.0V613.4H849.0V611.4H848.0V611.8H847.0V617.9H846.0V612.1H845.0V611.7H844.0V607.8H843.0V603.9H842.0V603.4H841.0V595.2H840.0V603.7H839.0V588.9H838.0V585.4H837.0V594.6H836.0V596.7H835.0V592.8H834.0V600.6H833.0V599.7H832.0V609.1H831.0V604.9H830.0V611.8H829.0V605.2H828.0V616.5H827.0V618.2H826.0V615.0H825.0V611.4H824.0V616.1H823.0V616.6H822.0V626.3H821.0V624.3H820.0V622.3H819.0V623.1H818.0V619.5H817.0V618.8H816.0V615.1H815.0V612.6H814.0V610.4H813.0V608.2H812.0V610.2H811.0V607.6H810.0V607.1H809.0V602.6H808.0V597.7H807.0V600.2H806.0V597.2H805.0V586.2H804.0V592.5H803.0V595.7H802.0V603.3H801.0V591.5H800.0V596.6H799.0V595.3H798.0V595.8H797.0V608.9H796.0V612.8H795.0V600.6H794.0V605.3H793.0V606.8H792.0V608.7H791.0V612.1H790.0V615.4H789.0V616.3H788.0V614.6H787.0V625.7H786.0V618.2H785.0V622.6H784.0V626.8H783.0V617.2H782.0V617.0H781.0V620.6H780.0V616.3H779.0V615.6H778.0V617.1H777.0V622.2H776.0V619.0H775.0V614.8H774.0V614.1H773.0V614.7H772.0V607.7H771.0V603.3H770.0V601.0H769.0V608.0H768.0V598.9H767.0V596.9H766.0V601.3H765.0V605.4H764.0V598.0H763.0V610.1H762.0V599.1H761.0V600.6H760.0V611.0H759.0V606.4H758.0V616.2H757.0V617.4H756.0V608.6H755.0V612.3H754.0V616.9H753.0V617.5H752.0V621.0H751.0V615.1H750.0V614.4H749.0V613.6H748.0V613.1H747.0V618.3H746.0V611.4H745.0V617.0H744.0V613.0H743.0V620.4H742.0V619.9H741.0V613.0H740.0V611.0H739.0V611.6H738.0V612.9H737.0V606.2H736.0V608.2H735.0V603.9H734.0V601.5H733.0V604.3H732.0V607.8H731.0V599.2H730.0V607.6H729.0V601.3H728.0V604.5H727.0V608.1H726.0V604.6H725.0V607.8H724.0V609.1H723.0V605.3H722.0V611.6H721.0V611.1H720.0V616.0H719.0V615.0H718.0V621.4H717.0V618.5H716.0V625.1H715.0V624.1H714.0V623.5H713.0V625.3H712.0V622.7H711.0V621.7H710.0V623.1H709.0V622.7H708.0V613.1H707.0V623.1H706.0V612.1H705.0V606.3H704.0V603.5H703.0V611.8H702.0V609.4H701.0V598.4H700.0V597.4H699.0V600.4H698.0V598.8H697.0V597.3H696.0V601.8H695.0V608.3H694.0V598.0H693.0V601.9H692.0V607.0H691.0V601.6H690.0V604.8H689.0V604.2H688.0V619.0H687.0V610.8H686.0V618.6H685.0V622.7H684.0V616.2H683.0V628.0H682.0V625.3H681.0V629.8H680.0V623.8H679.0V619.1H678.0V620.3H677.0V617.0H676.0V617.3H675.0V615.7H674.0V615.8H673.0V619.6H672.0V618.8H671.0V613.1H670.0V612.6H669.0V608.7H668.0V613.4H667.0V606.9H666.0V611.0H665.0V614.4H664.0V612.5H663.0V598.1H662.0V607.2H661.0V600.5H660.0V604.0H659.0V608.8H658.0V610.1H657.0V609.5H656.0V615.7H655.0V612.8H654.0V617.5H653.0V624.2H652.0V626.1H651.0V628.2H650.0V629.7H649.0V623.5H648.0V632.9H647.0V623.7H646.0V627.2H645.0V626.6H644.0V625.0H643.0V620.9H642.0V616.2H641.0V613.9H640.0V608.9H639.0Z" fill="#0000ff" stroke="#0000ff" stroke-width="0.3"/>
</g>
<g id="boxes" fill="none">
<rect x="628.5" y="14.5" width="185" height="685.8" rx="30" ry="30" stroke="#ff0000" stroke-width="1.9" stroke-dasharray="8.9 3.9"/>
<rect x="817" y="14.9" width="126.2" height="686.4" rx="21" ry="21" stroke="#4f7d30" stroke-width="1.85" stroke-dasharray="7.6 3.5"/>
</g>
<text class="k" x="649.8" y="37.5" font-size="21.3" textLength="148.5" lengthAdjust="spacingAndGlyphs" word-spacing="3.6">Training Data</text>
<text class="k" x="829.4" y="37.5" font-size="21.3" textLength="102.8" lengthAdjust="spacingAndGlyphs" word-spacing="3.4">Test Data</text>
</svg></body></html>
